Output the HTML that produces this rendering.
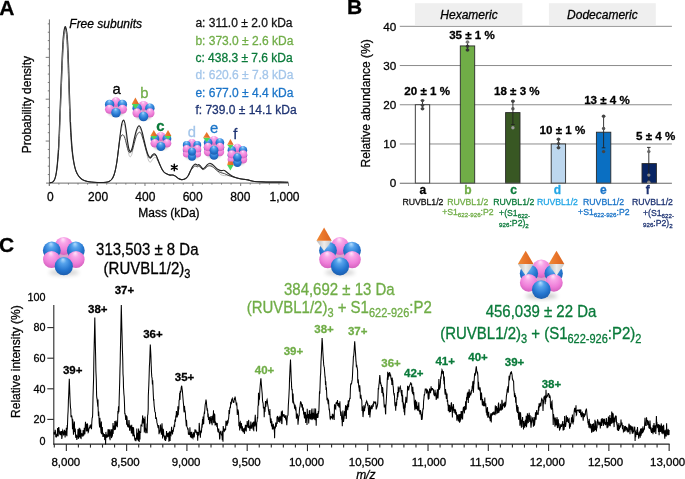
<!DOCTYPE html><html><head><meta charset="utf-8"><title>figure</title><style>html,body{margin:0;padding:0;background:#fff;overflow:hidden}svg{display:block;will-change:transform}text{font-family:"Liberation Sans",sans-serif;stroke-width:0.28px}</style></head><body>
<svg width="685" height="479" viewBox="0 0 685 479">
<defs>
<radialGradient id="gb" cx="50%" cy="38%" r="62%" fx="45%" fy="12%">
<stop offset="0" stop-color="#b5defe"/><stop offset="0.28" stop-color="#56a3ec"/><stop offset="0.7" stop-color="#2475cf"/><stop offset="1" stop-color="#1b5dae"/></radialGradient>
<radialGradient id="gp" cx="50%" cy="38%" r="62%" fx="45%" fy="12%">
<stop offset="0" stop-color="#ffe6fa"/><stop offset="0.28" stop-color="#f8a6e8"/><stop offset="0.7" stop-color="#ee7dd8"/><stop offset="1" stop-color="#d462be"/></radialGradient>
<linearGradient id="go" x1="0" y1="0" x2="1" y2="0"><stop offset="0" stop-color="#f08a35"/><stop offset="0.5" stop-color="#e8742a"/><stop offset="1" stop-color="#d96420"/></linearGradient>
<linearGradient id="gg" x1="0" y1="0" x2="1" y2="0"><stop offset="0" stop-color="#b9b9b9"/><stop offset="0.5" stop-color="#ececec"/><stop offset="1" stop-color="#c4c4c4"/></linearGradient>
<filter id="sh" x="-50%" y="-50%" width="200%" height="200%"><feGaussianBlur stdDeviation="2"/></filter>
<filter id="shs" x="-50%" y="-50%" width="200%" height="200%"><feGaussianBlur stdDeviation="1"/></filter>
</defs>
<rect width="685" height="479" fill="#fff"/>
<text x="-0.80" y="14.70" font-size="21.00" fill="#000" stroke="#000" font-weight="bold">A</text>
<line x1="49.4" y1="19.4" x2="49.4" y2="185.8" stroke="#6e6e6e" stroke-width="1"/>
<line x1="47.80" y1="174.53" x2="49.4" y2="174.53" stroke="#6e6e6e" stroke-width="0.9"/>
<line x1="47.80" y1="166.16" x2="49.4" y2="166.16" stroke="#6e6e6e" stroke-width="0.9"/>
<line x1="47.80" y1="157.79" x2="49.4" y2="157.79" stroke="#6e6e6e" stroke-width="0.9"/>
<line x1="47.80" y1="149.42" x2="49.4" y2="149.42" stroke="#6e6e6e" stroke-width="0.9"/>
<line x1="45.70" y1="141.05" x2="49.4" y2="141.05" stroke="#6e6e6e" stroke-width="0.9"/>
<line x1="47.80" y1="132.68" x2="49.4" y2="132.68" stroke="#6e6e6e" stroke-width="0.9"/>
<line x1="47.80" y1="124.31" x2="49.4" y2="124.31" stroke="#6e6e6e" stroke-width="0.9"/>
<line x1="47.80" y1="115.94" x2="49.4" y2="115.94" stroke="#6e6e6e" stroke-width="0.9"/>
<line x1="47.80" y1="107.57" x2="49.4" y2="107.57" stroke="#6e6e6e" stroke-width="0.9"/>
<line x1="45.70" y1="99.20" x2="49.4" y2="99.20" stroke="#6e6e6e" stroke-width="0.9"/>
<line x1="47.80" y1="90.83" x2="49.4" y2="90.83" stroke="#6e6e6e" stroke-width="0.9"/>
<line x1="47.80" y1="82.46" x2="49.4" y2="82.46" stroke="#6e6e6e" stroke-width="0.9"/>
<line x1="47.80" y1="74.09" x2="49.4" y2="74.09" stroke="#6e6e6e" stroke-width="0.9"/>
<line x1="47.80" y1="65.72" x2="49.4" y2="65.72" stroke="#6e6e6e" stroke-width="0.9"/>
<line x1="45.70" y1="57.35" x2="49.4" y2="57.35" stroke="#6e6e6e" stroke-width="0.9"/>
<line x1="47.80" y1="48.98" x2="49.4" y2="48.98" stroke="#6e6e6e" stroke-width="0.9"/>
<line x1="47.80" y1="40.61" x2="49.4" y2="40.61" stroke="#6e6e6e" stroke-width="0.9"/>
<line x1="47.80" y1="32.24" x2="49.4" y2="32.24" stroke="#6e6e6e" stroke-width="0.9"/>
<line x1="47.80" y1="23.87" x2="49.4" y2="23.87" stroke="#6e6e6e" stroke-width="0.9"/>
<line x1="46.1" y1="183.1" x2="288.6" y2="183.1" stroke="#6e6e6e" stroke-width="1"/>
<line x1="49.30" y1="183.1" x2="49.30" y2="186.00" stroke="#6e6e6e" stroke-width="0.9"/>
<line x1="58.87" y1="183.1" x2="58.87" y2="184.60" stroke="#6e6e6e" stroke-width="0.9"/>
<line x1="68.44" y1="183.1" x2="68.44" y2="184.60" stroke="#6e6e6e" stroke-width="0.9"/>
<line x1="78.00" y1="183.1" x2="78.00" y2="184.60" stroke="#6e6e6e" stroke-width="0.9"/>
<line x1="87.57" y1="183.1" x2="87.57" y2="184.60" stroke="#6e6e6e" stroke-width="0.9"/>
<line x1="97.14" y1="183.1" x2="97.14" y2="186.00" stroke="#6e6e6e" stroke-width="0.9"/>
<line x1="106.71" y1="183.1" x2="106.71" y2="184.60" stroke="#6e6e6e" stroke-width="0.9"/>
<line x1="116.28" y1="183.1" x2="116.28" y2="184.60" stroke="#6e6e6e" stroke-width="0.9"/>
<line x1="125.84" y1="183.1" x2="125.84" y2="184.60" stroke="#6e6e6e" stroke-width="0.9"/>
<line x1="135.41" y1="183.1" x2="135.41" y2="184.60" stroke="#6e6e6e" stroke-width="0.9"/>
<line x1="144.98" y1="183.1" x2="144.98" y2="186.00" stroke="#6e6e6e" stroke-width="0.9"/>
<line x1="154.55" y1="183.1" x2="154.55" y2="184.60" stroke="#6e6e6e" stroke-width="0.9"/>
<line x1="164.12" y1="183.1" x2="164.12" y2="184.60" stroke="#6e6e6e" stroke-width="0.9"/>
<line x1="173.68" y1="183.1" x2="173.68" y2="184.60" stroke="#6e6e6e" stroke-width="0.9"/>
<line x1="183.25" y1="183.1" x2="183.25" y2="184.60" stroke="#6e6e6e" stroke-width="0.9"/>
<line x1="192.82" y1="183.1" x2="192.82" y2="186.00" stroke="#6e6e6e" stroke-width="0.9"/>
<line x1="202.39" y1="183.1" x2="202.39" y2="184.60" stroke="#6e6e6e" stroke-width="0.9"/>
<line x1="211.96" y1="183.1" x2="211.96" y2="184.60" stroke="#6e6e6e" stroke-width="0.9"/>
<line x1="221.52" y1="183.1" x2="221.52" y2="184.60" stroke="#6e6e6e" stroke-width="0.9"/>
<line x1="231.09" y1="183.1" x2="231.09" y2="184.60" stroke="#6e6e6e" stroke-width="0.9"/>
<line x1="240.66" y1="183.1" x2="240.66" y2="186.00" stroke="#6e6e6e" stroke-width="0.9"/>
<line x1="250.23" y1="183.1" x2="250.23" y2="184.60" stroke="#6e6e6e" stroke-width="0.9"/>
<line x1="259.80" y1="183.1" x2="259.80" y2="184.60" stroke="#6e6e6e" stroke-width="0.9"/>
<line x1="269.36" y1="183.1" x2="269.36" y2="184.60" stroke="#6e6e6e" stroke-width="0.9"/>
<line x1="278.93" y1="183.1" x2="278.93" y2="184.60" stroke="#6e6e6e" stroke-width="0.9"/>
<line x1="288.50" y1="183.1" x2="288.50" y2="186.00" stroke="#6e6e6e" stroke-width="0.9"/>
<text x="50.40" y="200.90" font-size="12.00" fill="#000" stroke="#000" text-anchor="middle">0</text>
<text x="98.10" y="200.90" font-size="12.00" fill="#000" stroke="#000" text-anchor="middle">200</text>
<text x="145.30" y="200.90" font-size="12.00" fill="#000" stroke="#000" text-anchor="middle">400</text>
<text x="192.70" y="200.90" font-size="12.00" fill="#000" stroke="#000" text-anchor="middle">600</text>
<text x="240.30" y="200.90" font-size="12.00" fill="#000" stroke="#000" text-anchor="middle">800</text>
<text x="284.50" y="200.90" font-size="12.00" fill="#000" stroke="#000" text-anchor="middle">1,000</text>
<text x="168.90" y="216.50" font-size="12.00" fill="#000" stroke="#000" text-anchor="middle">Mass (kDa)</text>
<text transform="translate(30.7,104.6) rotate(-90)" font-size="12" text-anchor="middle" fill="#000" stroke="#000">Probability density</text>
<text x="69.30" y="27.50" font-size="12.00" fill="#000" stroke="#000" font-style="italic">Free subunits</text>
<text x="195.40" y="27.30" font-size="12.00" fill="#111" stroke="#111">a: 311.0 &#177; 2.0 kDa</text>
<text x="195.40" y="44.60" font-size="12.00" fill="#70ad47" stroke="#70ad47">b: 373.0 &#177; 2.6 kDa</text>
<text x="195.40" y="61.90" font-size="12.00" fill="#0a7a3a" stroke="#0a7a3a">c: 438.3 &#177; 7.6 kDa</text>
<text x="195.40" y="79.20" font-size="12.00" fill="#a4c6ea" stroke="#a4c6ea">d: 620.6 &#177; 7.8 kDa</text>
<text x="195.40" y="96.50" font-size="12.00" fill="#1a74c8" stroke="#1a74c8">e: 677.0 &#177; 4.4 kDa</text>
<text x="195.40" y="113.80" font-size="12.00" fill="#1f3473" stroke="#1f3473">f: 739.0 &#177; 14.1 kDa</text>
<path d="M49.50,182.80 C49.97,182.72 51.62,182.57 52.30,182.30 C52.98,182.03 53.15,181.85 53.60,181.20 C54.05,180.55 54.55,179.85 55.00,178.40 C55.45,176.95 55.90,175.07 56.30,172.50 C56.70,169.93 57.03,167.08 57.40,163.00 C57.77,158.92 58.17,153.83 58.50,148.00 C58.83,142.17 59.10,135.33 59.40,128.00 C59.70,120.67 59.98,112.33 60.30,104.00 C60.62,95.67 60.97,86.33 61.30,78.00 C61.63,69.67 61.97,60.83 62.30,54.00 C62.63,47.17 62.97,41.00 63.30,37.00 C63.63,33.00 63.97,31.53 64.30,30.00 C64.63,28.47 64.97,27.80 65.30,27.80 C65.63,27.80 65.97,28.47 66.30,30.00 C66.63,31.53 66.98,33.00 67.30,37.00 C67.62,41.00 67.92,47.17 68.20,54.00 C68.48,60.83 68.75,70.33 69.00,78.00 C69.25,85.67 69.45,92.67 69.70,100.00 C69.95,107.33 70.18,115.00 70.50,122.00 C70.82,129.00 71.22,136.50 71.60,142.00 C71.98,147.50 72.33,151.17 72.80,155.00 C73.27,158.83 73.83,162.25 74.40,165.00 C74.97,167.75 75.50,169.67 76.20,171.50 C76.90,173.33 77.72,174.75 78.60,176.00 C79.48,177.25 80.43,178.20 81.50,179.00 C82.57,179.80 83.75,180.33 85.00,180.80 C86.25,181.27 87.50,181.55 89.00,181.80 C90.50,182.05 92.17,182.18 94.00,182.30 C95.83,182.42 98.00,182.50 100.00,182.50 C102.00,182.50 104.42,182.52 106.00,182.30 C107.58,182.08 108.50,181.75 109.50,181.20 C110.50,180.65 111.25,180.03 112.00,179.00 C112.75,177.97 113.40,176.67 114.00,175.00 C114.60,173.33 115.10,171.33 115.60,169.00 C116.10,166.67 116.53,164.17 117.00,161.00 C117.47,157.83 117.93,153.83 118.40,150.00 C118.87,146.17 119.33,141.33 119.80,138.00 C120.27,134.67 120.75,132.17 121.20,130.00 C121.65,127.83 122.07,126.00 122.50,125.00 C122.93,124.00 123.38,123.67 123.80,124.00 C124.22,124.33 124.60,125.00 125.00,127.00 C125.40,129.00 125.78,132.83 126.20,136.00 C126.62,139.17 127.05,142.92 127.50,146.00 C127.95,149.08 128.42,152.70 128.90,154.50 C129.38,156.30 129.85,157.05 130.40,156.80 C130.95,156.55 131.57,155.47 132.20,153.00 C132.83,150.53 133.53,145.33 134.20,142.00 C134.87,138.67 135.50,135.25 136.20,133.00 C136.90,130.75 137.70,129.17 138.40,128.50 C139.10,127.83 139.73,127.92 140.40,129.00 C141.07,130.08 141.73,132.67 142.40,135.00 C143.07,137.33 143.73,140.17 144.40,143.00 C145.07,145.83 145.73,149.17 146.40,152.00 C147.07,154.83 147.73,158.30 148.40,160.00 C149.07,161.70 149.73,162.28 150.40,162.20 C151.07,162.12 151.75,160.28 152.40,159.50 C153.05,158.72 153.68,157.75 154.30,157.50 C154.92,157.25 155.48,157.33 156.10,158.00 C156.72,158.67 157.35,160.33 158.00,161.50 C158.65,162.67 159.33,163.72 160.00,165.00 C160.67,166.28 161.30,167.98 162.00,169.20 C162.70,170.42 163.37,171.50 164.20,172.30 C165.03,173.10 166.03,173.53 167.00,174.00 C167.97,174.47 169.00,174.93 170.00,175.10 C171.00,175.27 172.03,174.78 173.00,175.00 C173.97,175.22 174.88,175.80 175.80,176.40 C176.72,177.00 177.58,178.07 178.50,178.60 C179.42,179.13 180.38,179.48 181.30,179.60 C182.22,179.72 183.17,179.57 184.00,179.30 C184.83,179.03 185.55,178.68 186.30,178.00 C187.05,177.32 187.80,176.40 188.50,175.20 C189.20,174.00 189.82,172.17 190.50,170.80 C191.18,169.43 191.93,167.97 192.60,167.00 C193.27,166.03 193.93,165.33 194.50,165.00 C195.07,164.67 195.52,164.87 196.00,165.00 C196.48,165.13 196.93,165.77 197.40,165.80 C197.87,165.83 198.27,165.00 198.80,165.20 C199.33,165.40 199.93,166.37 200.60,167.00 C201.27,167.63 202.07,168.83 202.80,169.00 C203.53,169.17 204.23,168.50 205.00,168.00 C205.77,167.50 206.60,166.53 207.40,166.00 C208.20,165.47 209.00,164.87 209.80,164.80 C210.60,164.73 211.37,165.17 212.20,165.60 C213.03,166.03 213.90,166.47 214.80,167.40 C215.70,168.33 216.60,170.00 217.60,171.20 C218.60,172.40 219.67,173.87 220.80,174.60 C221.93,175.33 223.20,175.43 224.40,175.60 C225.60,175.77 226.67,175.50 228.00,175.60 C229.33,175.70 231.03,175.83 232.40,176.20 C233.77,176.57 234.90,177.37 236.20,177.80 C237.50,178.23 238.87,178.53 240.20,178.80 C241.53,179.07 242.90,179.22 244.20,179.40 C245.50,179.58 246.83,179.67 248.00,179.90 C249.17,180.13 250.10,180.53 251.20,180.80 C252.30,181.07 252.80,181.32 254.60,181.50 C256.40,181.68 259.43,181.80 262.00,181.90 C264.57,182.00 267.00,182.07 270.00,182.10 C273.00,182.13 276.97,182.07 280.00,182.10 C283.03,182.13 286.83,182.27 288.20,182.30" fill="none" stroke="#b8b8b8" stroke-width="0.9"/>
<path d="M49.50,182.80 C49.97,182.72 51.62,182.57 52.30,182.30 C52.98,182.03 53.14,181.85 53.60,181.20 C54.06,180.55 54.59,179.85 55.06,178.40 C55.54,176.95 56.02,175.07 56.44,172.50 C56.87,169.93 57.22,167.08 57.61,163.00 C58.00,158.92 58.42,153.83 58.78,148.00 C59.13,142.17 59.42,135.33 59.73,128.00 C60.05,120.67 60.35,112.33 60.69,104.00 C61.03,95.67 61.40,86.33 61.75,78.00 C62.11,69.67 62.46,60.83 62.81,54.00 C63.17,47.17 63.52,41.17 63.88,37.00 C64.23,32.83 64.70,30.73 64.94,29.00 C65.18,27.27 65.18,26.60 65.30,26.60 C65.42,26.60 65.42,27.27 65.66,29.00 C65.89,30.73 66.38,32.83 66.71,37.00 C67.04,41.17 67.36,47.17 67.66,54.00 C67.96,60.83 68.24,70.33 68.50,78.00 C68.77,85.67 68.98,92.67 69.24,100.00 C69.51,107.33 69.75,115.00 70.09,122.00 C70.42,129.00 70.84,136.50 71.25,142.00 C71.65,147.50 72.02,151.17 72.51,155.00 C73.01,158.83 73.60,162.25 74.20,165.00 C74.80,167.75 75.37,169.67 76.10,171.50 C76.83,173.33 77.70,174.75 78.60,176.00 C79.50,177.25 80.43,178.20 81.50,179.00 C82.57,179.80 83.75,180.33 85.00,180.80 C86.25,181.27 87.50,181.55 89.00,181.80 C90.50,182.05 92.17,182.18 94.00,182.30 C95.83,182.42 98.00,182.50 100.00,182.50 C102.00,182.50 104.42,182.52 106.00,182.30 C107.58,182.08 108.50,181.75 109.50,181.20 C110.50,180.65 111.25,180.03 112.00,179.00 C112.75,177.97 113.40,176.67 114.00,175.00 C114.60,173.33 115.10,171.33 115.60,169.00 C116.10,166.67 116.53,164.17 117.00,161.00 C117.47,157.83 117.93,153.50 118.40,150.00 C118.87,146.50 119.33,142.33 119.80,140.00 C120.27,137.67 120.75,136.87 121.20,136.00 C121.65,135.13 122.07,134.87 122.50,134.80 C122.93,134.73 123.38,134.98 123.80,135.60 C124.22,136.22 124.60,137.27 125.00,138.50 C125.40,139.73 125.78,141.33 126.20,143.00 C126.62,144.67 127.05,147.00 127.50,148.50 C127.95,150.00 128.42,151.32 128.90,152.00 C129.38,152.68 129.85,152.85 130.40,152.60 C130.95,152.35 131.57,152.02 132.20,150.50 C132.83,148.98 133.53,145.83 134.20,143.50 C134.87,141.17 135.50,138.28 136.20,136.50 C136.90,134.72 137.70,133.45 138.40,132.80 C139.10,132.15 139.73,131.90 140.40,132.60 C141.07,133.30 141.73,135.10 142.40,137.00 C143.07,138.90 143.73,141.63 144.40,144.00 C145.07,146.37 145.73,149.10 146.40,151.20 C147.07,153.30 147.73,155.40 148.40,156.60 C149.07,157.80 149.73,158.50 150.40,158.40 C151.07,158.30 151.75,156.57 152.40,156.00 C153.05,155.43 153.68,155.08 154.30,155.00 C154.92,154.92 155.48,154.67 156.10,155.50 C156.72,156.33 157.35,158.42 158.00,160.00 C158.65,161.58 159.33,163.47 160.00,165.00 C160.67,166.53 161.30,167.98 162.00,169.20 C162.70,170.42 163.37,171.50 164.20,172.30 C165.03,173.10 166.03,173.53 167.00,174.00 C167.97,174.47 169.00,174.93 170.00,175.10 C171.00,175.27 172.03,174.78 173.00,175.00 C173.97,175.22 174.88,175.80 175.80,176.40 C176.72,177.00 177.58,178.07 178.50,178.60 C179.42,179.13 180.38,179.48 181.30,179.60 C182.22,179.72 183.17,179.57 184.00,179.30 C184.83,179.03 185.55,178.68 186.30,178.00 C187.05,177.32 187.80,176.40 188.50,175.20 C189.20,174.00 189.82,172.00 190.50,170.80 C191.18,169.60 191.93,168.77 192.60,168.00 C193.27,167.23 193.93,166.48 194.50,166.20 C195.07,165.92 195.52,166.20 196.00,166.30 C196.48,166.40 196.93,166.82 197.40,166.80 C197.87,166.78 198.27,166.07 198.80,166.20 C199.33,166.33 199.93,167.03 200.60,167.60 C201.27,168.17 202.07,169.43 202.80,169.60 C203.53,169.77 204.23,169.13 205.00,168.60 C205.77,168.07 206.60,166.87 207.40,166.40 C208.20,165.93 209.00,165.77 209.80,165.80 C210.60,165.83 211.37,166.13 212.20,166.60 C213.03,167.07 213.90,167.87 214.80,168.60 C215.70,169.33 216.60,170.33 217.60,171.00 C218.60,171.67 219.67,172.17 220.80,172.60 C221.93,173.03 223.20,173.17 224.40,173.60 C225.60,174.03 226.67,174.67 228.00,175.20 C229.33,175.73 231.03,176.37 232.40,176.80 C233.77,177.23 234.90,177.47 236.20,177.80 C237.50,178.13 238.87,178.53 240.20,178.80 C241.53,179.07 242.90,179.22 244.20,179.40 C245.50,179.58 246.83,179.67 248.00,179.90 C249.17,180.13 250.10,180.53 251.20,180.80 C252.30,181.07 252.80,181.32 254.60,181.50 C256.40,181.68 259.43,181.80 262.00,181.90 C264.57,182.00 267.00,182.07 270.00,182.10 C273.00,182.13 276.97,182.07 280.00,182.10 C283.03,182.13 286.83,182.27 288.20,182.30" fill="none" stroke="#3a3a3a" stroke-width="0.95"/>
<path d="M49.50,182.80 C49.97,182.72 51.62,182.57 52.30,182.30 C52.98,182.03 53.15,181.85 53.60,181.20 C54.05,180.55 54.55,179.85 55.00,178.40 C55.45,176.95 55.90,175.07 56.30,172.50 C56.70,169.93 57.03,167.08 57.40,163.00 C57.77,158.92 58.17,153.83 58.50,148.00 C58.83,142.17 59.10,135.33 59.40,128.00 C59.70,120.67 59.98,112.33 60.30,104.00 C60.62,95.67 60.97,86.33 61.30,78.00 C61.63,69.67 61.97,60.83 62.30,54.00 C62.63,47.17 62.97,41.17 63.30,37.00 C63.63,32.83 63.97,30.73 64.30,29.00 C64.63,27.27 64.97,26.60 65.30,26.60 C65.63,26.60 65.97,27.27 66.30,29.00 C66.63,30.73 66.98,32.83 67.30,37.00 C67.62,41.17 67.92,47.17 68.20,54.00 C68.48,60.83 68.75,70.33 69.00,78.00 C69.25,85.67 69.45,92.67 69.70,100.00 C69.95,107.33 70.18,115.00 70.50,122.00 C70.82,129.00 71.22,136.50 71.60,142.00 C71.98,147.50 72.33,151.17 72.80,155.00 C73.27,158.83 73.83,162.25 74.40,165.00 C74.97,167.75 75.50,169.67 76.20,171.50 C76.90,173.33 77.72,174.75 78.60,176.00 C79.48,177.25 80.43,178.20 81.50,179.00 C82.57,179.80 83.75,180.33 85.00,180.80 C86.25,181.27 87.50,181.55 89.00,181.80 C90.50,182.05 92.17,182.18 94.00,182.30 C95.83,182.42 98.00,182.50 100.00,182.50 C102.00,182.50 104.42,182.52 106.00,182.30 C107.58,182.08 108.50,181.75 109.50,181.20 C110.50,180.65 111.25,180.03 112.00,179.00 C112.75,177.97 113.40,176.67 114.00,175.00 C114.60,173.33 115.10,171.33 115.60,169.00 C116.10,166.67 116.53,164.17 117.00,161.00 C117.47,157.83 117.93,153.83 118.40,150.00 C118.87,146.17 119.33,141.83 119.80,138.00 C120.27,134.17 120.75,129.75 121.20,127.00 C121.65,124.25 122.07,122.62 122.50,121.50 C122.93,120.38 123.38,119.97 123.80,120.30 C124.22,120.63 124.60,121.72 125.00,123.50 C125.40,125.28 125.78,128.08 126.20,131.00 C126.62,133.92 127.05,138.00 127.50,141.00 C127.95,144.00 128.42,147.25 128.90,149.00 C129.38,150.75 129.85,151.67 130.40,151.50 C130.95,151.33 131.57,150.08 132.20,148.00 C132.83,145.92 133.53,141.83 134.20,139.00 C134.87,136.17 135.50,133.13 136.20,131.00 C136.90,128.87 137.70,126.83 138.40,126.20 C139.10,125.57 139.73,126.07 140.40,127.20 C141.07,128.33 141.73,130.62 142.40,133.00 C143.07,135.38 143.73,138.75 144.40,141.50 C145.07,144.25 145.73,147.17 146.40,149.50 C147.07,151.83 147.73,154.17 148.40,155.50 C149.07,156.83 149.73,157.58 150.40,157.50 C151.07,157.42 151.75,155.62 152.40,155.00 C153.05,154.38 153.68,153.72 154.30,153.80 C154.92,153.88 155.48,154.47 156.10,155.50 C156.72,156.53 157.35,158.42 158.00,160.00 C158.65,161.58 159.33,163.47 160.00,165.00 C160.67,166.53 161.30,167.98 162.00,169.20 C162.70,170.42 163.37,171.50 164.20,172.30 C165.03,173.10 166.03,173.53 167.00,174.00 C167.97,174.47 169.00,174.93 170.00,175.10 C171.00,175.27 172.03,174.78 173.00,175.00 C173.97,175.22 174.88,175.80 175.80,176.40 C176.72,177.00 177.58,178.07 178.50,178.60 C179.42,179.13 180.38,179.48 181.30,179.60 C182.22,179.72 183.17,179.57 184.00,179.30 C184.83,179.03 185.55,178.68 186.30,178.00 C187.05,177.32 187.80,176.40 188.50,175.20 C189.20,174.00 189.82,172.23 190.50,170.80 C191.18,169.37 191.93,167.67 192.60,166.60 C193.27,165.53 193.93,164.80 194.50,164.40 C195.07,164.00 195.52,164.05 196.00,164.20 C196.48,164.35 196.93,165.23 197.40,165.30 C197.87,165.37 198.27,164.45 198.80,164.60 C199.33,164.75 199.93,165.53 200.60,166.20 C201.27,166.87 202.07,168.40 202.80,168.60 C203.53,168.80 204.23,168.07 205.00,167.40 C205.77,166.73 206.60,165.30 207.40,164.60 C208.20,163.90 209.00,163.25 209.80,163.20 C210.60,163.15 211.37,163.73 212.20,164.30 C213.03,164.87 213.90,165.78 214.80,166.60 C215.70,167.42 216.60,168.53 217.60,169.20 C218.60,169.87 219.67,170.40 220.80,170.60 C221.93,170.80 223.20,169.95 224.40,170.40 C225.60,170.85 226.67,172.33 228.00,173.30 C229.33,174.27 231.03,175.45 232.40,176.20 C233.77,176.95 234.90,177.37 236.20,177.80 C237.50,178.23 238.87,178.53 240.20,178.80 C241.53,179.07 242.90,179.22 244.20,179.40 C245.50,179.58 246.83,179.67 248.00,179.90 C249.17,180.13 250.10,180.53 251.20,180.80 C252.30,181.07 252.80,181.32 254.60,181.50 C256.40,181.68 259.43,181.80 262.00,181.90 C264.57,182.00 267.00,182.07 270.00,182.10 C273.00,182.13 276.97,182.07 280.00,182.10 C283.03,182.13 286.83,182.27 288.20,182.30" fill="none" stroke="#222" stroke-width="1.1"/>
<path d="M58.90,150.00 C59.05,146.33 59.50,135.67 59.80,128.00 C60.10,120.33 60.38,112.33 60.70,104.00 C61.02,95.67 61.38,86.00 61.70,78.00 C62.02,70.00 62.30,62.33 62.60,56.00 C62.90,49.67 63.20,44.00 63.50,40.00 C63.80,36.00 64.10,33.75 64.40,32.00 C64.70,30.25 65.00,29.50 65.30,29.50 C65.60,29.50 65.90,30.25 66.20,32.00 C66.50,33.75 66.82,36.00 67.10,40.00 C67.38,44.00 67.65,49.67 67.90,56.00 C68.15,62.33 68.37,70.67 68.60,78.00 C68.83,85.33 69.07,92.67 69.30,100.00 C69.53,107.33 69.88,118.33 70.00,122.00" fill="none" stroke="#8a8a8a" stroke-width="0.8"/>
<path d="M174.3,164.2 L174.3,170.8 M171.4,165.85 L177.2,169.15 M171.4,169.15 L177.2,165.85" stroke="#000" stroke-width="1.5" stroke-linecap="round"/>
<ellipse cx="116.00" cy="113.79" rx="7.42" ry="2.12" fill="#000" opacity="0.25" filter="url(#shs)"/>
<circle cx="116.00" cy="107.32" r="2.39" fill="#d8a2cc"/><circle cx="116.00" cy="102.02" r="4.77" fill="url(#gp)"/><circle cx="109.64" cy="104.46" r="4.72" fill="url(#gb)"/><circle cx="122.36" cy="104.46" r="4.72" fill="url(#gb)"/><circle cx="109.53" cy="109.23" r="4.56" fill="url(#gp)"/><circle cx="122.47" cy="109.23" r="4.56" fill="url(#gp)"/><circle cx="116.00" cy="112.78" r="4.82" fill="url(#gb)"/>
<text x="116.60" y="94.00" font-size="14.80" fill="#000" stroke="#000" text-anchor="middle">a</text>
<ellipse cx="143.50" cy="117.49" rx="7.42" ry="2.12" fill="#000" opacity="0.25" filter="url(#shs)"/>
<circle cx="143.50" cy="111.02" r="2.39" fill="#d8a2cc"/><circle cx="143.50" cy="105.72" r="4.77" fill="url(#gp)"/><circle cx="137.14" cy="108.16" r="4.72" fill="url(#gb)"/><circle cx="149.86" cy="108.16" r="4.72" fill="url(#gb)"/><circle cx="137.03" cy="112.93" r="4.56" fill="url(#gp)"/><circle cx="149.97" cy="112.93" r="4.56" fill="url(#gp)"/><circle cx="143.50" cy="116.48" r="4.82" fill="url(#gb)"/>
<path d="M131.80,104.00 L139.00,104.00 L135.40,109.10 Z" fill="#4cd65a"/><path d="M135.40,97.60 L139.00,104.00 L131.80,104.00 Z" fill="url(#go)"/>
<text x="144.30" y="98.30" font-size="14.80" fill="#70ad47" stroke="#70ad47" text-anchor="middle">b</text>
<ellipse cx="160.90" cy="147.50" rx="7.00" ry="2.00" fill="#000" opacity="0.25" filter="url(#shs)"/>
<circle cx="160.90" cy="141.40" r="2.25" fill="#d8a2cc"/><circle cx="160.90" cy="136.40" r="4.50" fill="url(#gp)"/><circle cx="154.90" cy="138.70" r="4.45" fill="url(#gb)"/><circle cx="166.90" cy="138.70" r="4.45" fill="url(#gb)"/><circle cx="154.80" cy="143.20" r="4.30" fill="url(#gp)"/><circle cx="167.00" cy="143.20" r="4.30" fill="url(#gp)"/><circle cx="160.90" cy="146.55" r="4.55" fill="url(#gb)"/>
<path d="M150.40,135.90 L157.20,135.90 L153.80,139.60 Z" fill="#4cd65a"/><path d="M153.80,130.00 L157.20,135.90 L150.40,135.90 Z" fill="url(#go)"/>
<path d="M164.60,135.90 L171.40,135.90 L168.00,139.60 Z" fill="#4cd65a"/><path d="M168.00,130.00 L171.40,135.90 L164.60,135.90 Z" fill="url(#go)"/>
<text x="160.40" y="131.20" font-size="14.80" fill="#0a7a3a" stroke="#0a7a3a" font-weight="bold" text-anchor="middle">c</text>
<ellipse cx="192.00" cy="157.35" rx="6.30" ry="1.80" fill="#000" opacity="0.25" filter="url(#shs)"/>
<circle cx="192.00" cy="152.25" r="1.98" fill="#d8a2cc"/><circle cx="192.00" cy="147.85" r="3.96" fill="url(#gp)"/><circle cx="186.72" cy="149.88" r="3.92" fill="url(#gb)"/><circle cx="197.28" cy="149.88" r="3.92" fill="url(#gb)"/><circle cx="186.63" cy="153.84" r="3.78" fill="url(#gp)"/><circle cx="197.37" cy="153.84" r="3.78" fill="url(#gp)"/><circle cx="192.00" cy="156.78" r="4.00" fill="url(#gb)"/><circle cx="192.00" cy="147.25" r="1.98" fill="#d8a2cc"/><circle cx="192.00" cy="142.85" r="3.96" fill="url(#gp)"/><circle cx="186.72" cy="144.88" r="3.92" fill="url(#gb)"/><circle cx="197.28" cy="144.88" r="3.92" fill="url(#gb)"/><circle cx="186.63" cy="148.84" r="3.78" fill="url(#gp)"/><circle cx="197.37" cy="148.84" r="3.78" fill="url(#gp)"/><circle cx="192.00" cy="151.78" r="4.00" fill="url(#gb)"/>
<text x="191.80" y="136.70" font-size="14.80" fill="#a4c6ea" stroke="#a4c6ea" text-anchor="middle">d</text>
<ellipse cx="214.00" cy="155.87" rx="6.86" ry="1.96" fill="#000" opacity="0.25" filter="url(#shs)"/>
<circle cx="214.00" cy="150.19" r="2.21" fill="#d8a2cc"/><circle cx="214.00" cy="145.29" r="4.41" fill="url(#gp)"/><circle cx="208.12" cy="147.55" r="4.36" fill="url(#gb)"/><circle cx="219.88" cy="147.55" r="4.36" fill="url(#gb)"/><circle cx="208.02" cy="151.96" r="4.21" fill="url(#gp)"/><circle cx="219.98" cy="151.96" r="4.21" fill="url(#gp)"/><circle cx="214.00" cy="155.24" r="4.46" fill="url(#gb)"/><circle cx="214.00" cy="145.19" r="2.21" fill="#d8a2cc"/><circle cx="214.00" cy="140.29" r="4.41" fill="url(#gp)"/><circle cx="208.12" cy="142.55" r="4.36" fill="url(#gb)"/><circle cx="219.88" cy="142.55" r="4.36" fill="url(#gb)"/><circle cx="208.02" cy="146.96" r="4.21" fill="url(#gp)"/><circle cx="219.98" cy="146.96" r="4.21" fill="url(#gp)"/><circle cx="214.00" cy="150.24" r="4.46" fill="url(#gb)"/>
<path d="M203.10,137.70 L210.30,137.70 L206.70,142.00 Z" fill="#4cd65a"/><path d="M206.70,132.00 L210.30,137.70 L203.10,137.70 Z" fill="url(#go)"/>
<text x="214.00" y="133.20" font-size="14.80" fill="#1a74c8" stroke="#1a74c8" text-anchor="middle">e</text>
<ellipse cx="237.40" cy="163.24" rx="6.72" ry="1.92" fill="#000" opacity="0.25" filter="url(#shs)"/>
<circle cx="237.40" cy="157.78" r="2.11" fill="#d8a2cc"/><circle cx="237.40" cy="153.08" r="4.23" fill="url(#gp)"/><circle cx="231.76" cy="155.24" r="4.18" fill="url(#gb)"/><circle cx="243.04" cy="155.24" r="4.18" fill="url(#gb)"/><circle cx="231.67" cy="159.47" r="4.04" fill="url(#gp)"/><circle cx="243.13" cy="159.47" r="4.04" fill="url(#gp)"/><circle cx="237.40" cy="162.62" r="4.28" fill="url(#gb)"/><circle cx="237.40" cy="152.68" r="2.11" fill="#d8a2cc"/><circle cx="237.40" cy="147.98" r="4.23" fill="url(#gp)"/><circle cx="231.76" cy="150.14" r="4.18" fill="url(#gb)"/><circle cx="243.04" cy="150.14" r="4.18" fill="url(#gb)"/><circle cx="231.67" cy="154.37" r="4.04" fill="url(#gp)"/><circle cx="243.13" cy="154.37" r="4.04" fill="url(#gp)"/><circle cx="237.40" cy="157.52" r="4.28" fill="url(#gb)"/>
<path d="M227.20,144.80 L233.60,144.80 L230.40,148.80 Z" fill="#4cd65a"/><path d="M230.40,138.90 L233.60,144.80 L227.20,144.80 Z" fill="url(#go)"/>
<path d="M227.2,165 L233.6,165 L230.4,170.4 Z" fill="#4cd65a"/><path d="M228.2,161.5 L232.6,161.5 L233.6,165 L227.2,165 Z" fill="url(#go)"/>
<text x="235.30" y="138.50" font-size="14.80" fill="#1f3473" stroke="#1f3473" text-anchor="middle">f</text>
<text x="347.10" y="13.90" font-size="21.00" fill="#000" stroke="#000" font-weight="bold">B</text>
<rect x="414.9" y="3.2" width="107.5" height="21.8" fill="#efefef"/>
<rect x="548.9" y="3.2" width="106.9" height="21.8" fill="#efefef"/>
<text x="469.00" y="19.20" font-size="12.00" fill="#000" stroke="#000" font-style="italic" text-anchor="middle">Hexameric</text>
<text x="602.40" y="19.20" font-size="12.00" fill="#000" stroke="#000" font-style="italic" text-anchor="middle">Dodecameric</text>
<line x1="399.8" y1="143.98" x2="671.9" y2="143.98" stroke="#8c8c8c" stroke-width="1"/>
<line x1="399.8" y1="104.76" x2="671.9" y2="104.76" stroke="#8c8c8c" stroke-width="1"/>
<line x1="399.8" y1="65.54" x2="671.9" y2="65.54" stroke="#8c8c8c" stroke-width="1"/>
<line x1="399.8" y1="26.32" x2="671.9" y2="26.32" stroke="#8c8c8c" stroke-width="1"/>
<text x="396.20" y="187.40" font-size="11.70" fill="#000" stroke="#000" text-anchor="end">0</text>
<text x="396.20" y="148.18" font-size="11.70" fill="#000" stroke="#000" text-anchor="end">10</text>
<text x="396.20" y="108.96" font-size="11.70" fill="#000" stroke="#000" text-anchor="end">20</text>
<text x="396.20" y="69.74" font-size="11.70" fill="#000" stroke="#000" text-anchor="end">30</text>
<text x="396.20" y="30.52" font-size="11.70" fill="#000" stroke="#000" text-anchor="end">40</text>
<text transform="translate(370.1,103.4) rotate(-90)" font-size="12" text-anchor="middle" fill="#000" stroke="#000">Relative abundance (%)</text>
<rect x="415.30" y="104.76" width="14.4" height="78.44" fill="#ffffff" stroke="#2a2a2a" stroke-width="0.9"/>
<rect x="460.30" y="45.93" width="14.4" height="137.27" fill="#70ad47" stroke="#2a2a2a" stroke-width="0.9"/>
<rect x="505.60" y="112.60" width="14.4" height="70.60" fill="#385723" stroke="#2a2a2a" stroke-width="0.9"/>
<rect x="551.20" y="143.98" width="14.4" height="39.22" fill="#bdd7ee" stroke="#2a2a2a" stroke-width="0.9"/>
<rect x="596.40" y="132.21" width="14.4" height="50.99" fill="#0a6fc2" stroke="#2a2a2a" stroke-width="0.9"/>
<rect x="642.00" y="163.59" width="14.4" height="19.61" fill="#082463" stroke="#2a2a2a" stroke-width="0.9"/>
<line x1="399.8" y1="183.2" x2="671.9" y2="183.2" stroke="#6a6a6a" stroke-width="1.1"/>
<line x1="422.50" y1="100.30" x2="422.50" y2="108.80" stroke="#222" stroke-width="0.9"/>
<line x1="420.70" y1="100.30" x2="424.30" y2="100.30" stroke="#222" stroke-width="0.9"/>
<line x1="420.70" y1="108.80" x2="424.30" y2="108.80" stroke="#222" stroke-width="0.9"/>
<circle cx="422.50" cy="100.60" r="1.7" fill="#444"/>
<circle cx="422.50" cy="105.20" r="1.7" fill="#444"/>
<circle cx="422.50" cy="108.80" r="1.7" fill="#444"/>
<line x1="467.50" y1="42.20" x2="467.50" y2="50.00" stroke="#222" stroke-width="0.9"/>
<line x1="465.70" y1="42.20" x2="469.30" y2="42.20" stroke="#222" stroke-width="0.9"/>
<line x1="465.70" y1="50.00" x2="469.30" y2="50.00" stroke="#222" stroke-width="0.9"/>
<circle cx="467.50" cy="42.00" r="1.7" fill="#777"/>
<circle cx="467.50" cy="46.30" r="1.7" fill="#333"/>
<circle cx="467.50" cy="50.00" r="1.7" fill="#333"/>
<line x1="512.90" y1="101.00" x2="512.90" y2="124.50" stroke="#222" stroke-width="0.9"/>
<line x1="511.10" y1="101.00" x2="514.70" y2="101.00" stroke="#222" stroke-width="0.9"/>
<line x1="511.10" y1="124.50" x2="514.70" y2="124.50" stroke="#222" stroke-width="0.9"/>
<circle cx="512.90" cy="101.20" r="1.7" fill="#444"/>
<circle cx="512.90" cy="108.70" r="1.7" fill="#555"/>
<circle cx="512.90" cy="127.80" r="1.7" fill="#9a9a9a"/>
<line x1="558.50" y1="139.10" x2="558.50" y2="147.70" stroke="#222" stroke-width="0.9"/>
<line x1="556.70" y1="139.10" x2="560.30" y2="139.10" stroke="#222" stroke-width="0.9"/>
<line x1="556.70" y1="147.70" x2="560.30" y2="147.70" stroke="#222" stroke-width="0.9"/>
<circle cx="558.50" cy="139.30" r="1.7" fill="#444"/>
<circle cx="558.50" cy="143.60" r="1.7" fill="#444"/>
<circle cx="558.50" cy="147.70" r="1.7" fill="#444"/>
<line x1="603.60" y1="116.20" x2="603.60" y2="147.80" stroke="#222" stroke-width="0.9"/>
<line x1="601.80" y1="116.20" x2="605.40" y2="116.20" stroke="#222" stroke-width="0.9"/>
<line x1="601.80" y1="147.80" x2="605.40" y2="147.80" stroke="#222" stroke-width="0.9"/>
<circle cx="603.60" cy="116.30" r="1.7" fill="#444"/>
<circle cx="603.60" cy="128.50" r="1.7" fill="#555"/>
<circle cx="603.60" cy="151.60" r="1.7" fill="#444"/>
<line x1="648.80" y1="147.40" x2="648.80" y2="182.00" stroke="#222" stroke-width="0.9"/>
<line x1="647.00" y1="147.40" x2="650.60" y2="147.40" stroke="#222" stroke-width="0.9"/>
<line x1="647.00" y1="182.00" x2="650.60" y2="182.00" stroke="#222" stroke-width="0.9"/>
<circle cx="648.80" cy="151.60" r="1.7" fill="#666"/>
<circle cx="648.80" cy="175.10" r="1.7" fill="#8a8a8a"/>
<circle cx="648.80" cy="182.20" r="1.7" fill="#8a8a8a"/>
<text x="427.20" y="95.20" font-size="11.60" fill="#000" stroke="#000" font-weight="bold" text-anchor="middle">20 &#177; 1 %</text>
<text x="472.00" y="38.70" font-size="11.60" fill="#000" stroke="#000" font-weight="bold" text-anchor="middle">35 &#177; 1 %</text>
<text x="516.80" y="94.70" font-size="11.60" fill="#000" stroke="#000" font-weight="bold" text-anchor="middle">18 &#177; 3 %</text>
<text x="562.40" y="134.10" font-size="11.60" fill="#000" stroke="#000" font-weight="bold" text-anchor="middle">10 &#177; 1 %</text>
<text x="607.00" y="103.60" font-size="11.60" fill="#000" stroke="#000" font-weight="bold" text-anchor="middle">13 &#177; 4 %</text>
<text x="655.60" y="140.20" font-size="11.60" fill="#000" stroke="#000" font-weight="bold" text-anchor="middle">5 &#177; 4 %</text>
<text x="422.80" y="193.80" font-size="12.00" fill="#000" stroke="#000" font-weight="bold" text-anchor="middle">a</text>
<text x="468.00" y="193.80" font-size="12.00" fill="#70ad47" stroke="#70ad47" font-weight="bold" text-anchor="middle">b</text>
<text x="513.70" y="193.80" font-size="12.00" fill="#0a7a3a" stroke="#0a7a3a" font-weight="bold" text-anchor="middle">c</text>
<text x="557.30" y="193.80" font-size="12.00" fill="#22a6e6" stroke="#22a6e6" font-weight="bold" text-anchor="middle">d</text>
<text x="603.30" y="193.80" font-size="12.00" fill="#1a74c8" stroke="#1a74c8" font-weight="bold" text-anchor="middle">e</text>
<text x="647.80" y="193.80" font-size="12.00" fill="#1f3473" stroke="#1f3473" font-weight="bold" text-anchor="middle">f</text>
<text x="422.90" y="204.80" font-size="8.70" fill="#111" stroke="#111" text-anchor="middle">RUVBL1/2</text>
<text x="467.70" y="204.80" font-size="8.70" fill="#70ad47" stroke="#70ad47" text-anchor="middle">RUVBL1/2</text>
<text x="513.70" y="204.80" font-size="8.70" fill="#0a7a3a" stroke="#0a7a3a" text-anchor="middle">RUVBL1/2</text>
<text x="557.40" y="204.80" font-size="8.70" fill="#22a6e6" stroke="#22a6e6" text-anchor="middle">RUVBL1/2</text>
<text x="603.60" y="204.80" font-size="8.70" fill="#1a74c8" stroke="#1a74c8" text-anchor="middle">RUVBL1/2</text>
<text x="652.40" y="204.80" font-size="8.70" fill="#1f3473" stroke="#1f3473" text-anchor="middle">RUVBL1/2</text>
<text x="467.90" y="214.9" font-size="8.7" fill="#70ad47" stroke="#70ad47" text-anchor="middle">+S1<tspan font-size="6.2" dy="2">622-926</tspan><tspan dy="-2">:P2</tspan></text>
<text x="603.80" y="214.9" font-size="8.7" fill="#1a74c8" stroke="#1a74c8" text-anchor="middle">+S1<tspan font-size="6.2" dy="2">622-926</tspan><tspan dy="-2">:P2</tspan></text>
<text x="499.10" y="216.2" font-size="8.7" fill="#0a7a3a" stroke="#0a7a3a">+(S1<tspan font-size="6.2" dy="2">622-</tspan></text>
<text x="499.10" y="226.2" font-size="8.7" fill="#0a7a3a" stroke="#0a7a3a"><tspan font-size="6.2" dy="0.6">926</tspan><tspan dy="-0.6">:P2)</tspan><tspan font-size="6.2" dy="2">2</tspan></text>
<text x="643.00" y="216.2" font-size="8.7" fill="#1f3473" stroke="#1f3473">+(S1<tspan font-size="6.2" dy="2">622-</tspan></text>
<text x="643.00" y="226.2" font-size="8.7" fill="#1f3473" stroke="#1f3473"><tspan font-size="6.2" dy="0.6">926</tspan><tspan dy="-0.6">:P2)</tspan><tspan font-size="6.2" dy="2">2</tspan></text>
<text x="-0.90" y="251.90" font-size="21.00" fill="#000" stroke="#000" font-weight="bold">C</text>
<ellipse cx="64.00" cy="272.50" rx="15.00" ry="3.00" fill="#000" opacity="0.18" filter="url(#sh)"/>
<circle cx="63.80" cy="255.90" r="4.50" fill="#d8a2cc"/><circle cx="63.80" cy="245.90" r="9.00" fill="url(#gp)"/><circle cx="51.80" cy="250.50" r="8.90" fill="url(#gb)"/><circle cx="75.80" cy="250.50" r="8.90" fill="url(#gb)"/><circle cx="51.60" cy="259.50" r="8.60" fill="url(#gp)"/><circle cx="76.00" cy="259.50" r="8.60" fill="url(#gp)"/><circle cx="63.80" cy="266.20" r="9.10" fill="url(#gb)"/>
<ellipse cx="340.00" cy="272.50" rx="15.00" ry="3.00" fill="#000" opacity="0.18" filter="url(#sh)"/>
<circle cx="340.00" cy="256.00" r="4.50" fill="#d8a2cc"/><circle cx="340.00" cy="246.00" r="9.00" fill="url(#gp)"/><circle cx="328.00" cy="250.60" r="8.90" fill="url(#gb)"/><circle cx="352.00" cy="250.60" r="8.90" fill="url(#gb)"/><circle cx="327.80" cy="259.60" r="8.60" fill="url(#gp)"/><circle cx="352.20" cy="259.60" r="8.60" fill="url(#gp)"/><circle cx="340.00" cy="266.30" r="9.10" fill="url(#gb)"/>
<path d="M316.50,240.70 L331.70,240.70 L324.10,251.00 Z" fill="url(#gg)"/><path d="M324.10,227.60 L331.70,240.70 L316.50,240.70 Z" fill="url(#go)"/>
<ellipse cx="541.50" cy="296.00" rx="16.00" ry="3.00" fill="#000" opacity="0.22" filter="url(#sh)"/>
<circle cx="541.30" cy="279.12" r="4.63" fill="#d8a2cc"/><circle cx="541.30" cy="268.82" r="9.27" fill="url(#gp)"/><circle cx="528.94" cy="273.56" r="9.17" fill="url(#gb)"/><circle cx="553.66" cy="273.56" r="9.17" fill="url(#gb)"/><circle cx="528.73" cy="282.83" r="8.86" fill="url(#gp)"/><circle cx="553.87" cy="282.83" r="8.86" fill="url(#gp)"/><circle cx="541.30" cy="289.73" r="9.37" fill="url(#gb)"/>
<path d="M517.90,263.90 L533.50,263.90 L525.70,275.80 Z" fill="url(#gg)"/><path d="M525.70,250.70 L533.50,263.90 L517.90,263.90 Z" fill="url(#go)"/>
<path d="M548.70,263.90 L564.30,263.90 L556.50,275.80 Z" fill="url(#gg)"/><path d="M556.50,250.70 L564.30,263.90 L548.70,263.90 Z" fill="url(#go)"/>
<text transform="translate(147.30,255.00) scale(1,1.1)" x="0" y="0" font-size="15" fill="#000" stroke="#000" text-anchor="middle">313,503 &#177; 8 Da</text>
<text transform="translate(147.00,273.80) scale(1,1.1)" x="0" y="0" font-size="15" fill="#000" stroke="#000" text-anchor="middle">(RUVBL1/2)<tspan font-size="11" dy="3.6">3</tspan></text>
<text transform="translate(339.30,294.80) scale(1,1.1)" x="0" y="0" font-size="15" fill="#70ad47" stroke="#70ad47" text-anchor="middle">384,692 &#177; 13 Da</text>
<text transform="translate(339.20,313.20) scale(1,1.1)" x="0" y="0" font-size="15" fill="#70ad47" stroke="#70ad47" text-anchor="middle">(RUVBL1/2)<tspan font-size="11" dy="3.6">3</tspan><tspan dy="-3.6"> + S1</tspan><tspan font-size="11" dy="3.6">622-926</tspan><tspan dy="-3.6">:P2</tspan></text>
<text transform="translate(541.00,316.80) scale(1,1.1)" x="0" y="0" font-size="15" fill="#0a7a3a" stroke="#0a7a3a" text-anchor="middle">456,039 &#177; 22 Da</text>
<text transform="translate(540.80,339.10) scale(1,1.1)" x="0" y="0" font-size="15" fill="#0a7a3a" stroke="#0a7a3a" text-anchor="middle">(RUVBL1/2)<tspan font-size="11" dy="3.6">3</tspan><tspan dy="-3.6"> + (S1</tspan><tspan font-size="11" dy="3.6">622-926</tspan><tspan dy="-3.6">:P2)</tspan><tspan font-size="11" dy="3.6">2</tspan></text>
<line x1="53.8" y1="305" x2="53.8" y2="444.6" stroke="#2a2a2a" stroke-width="1.1"/>
<line x1="47.3" y1="419.40" x2="53.8" y2="419.40" stroke="#2a2a2a" stroke-width="1.1"/>
<text x="45.40" y="423.20" font-size="10.80" fill="#000" stroke="#000" text-anchor="end">20</text>
<line x1="47.3" y1="388.80" x2="53.8" y2="388.80" stroke="#2a2a2a" stroke-width="1.1"/>
<text x="45.40" y="392.60" font-size="10.80" fill="#000" stroke="#000" text-anchor="end">40</text>
<line x1="47.3" y1="358.20" x2="53.8" y2="358.20" stroke="#2a2a2a" stroke-width="1.1"/>
<text x="45.40" y="362.00" font-size="10.80" fill="#000" stroke="#000" text-anchor="end">60</text>
<line x1="47.3" y1="327.60" x2="53.8" y2="327.60" stroke="#2a2a2a" stroke-width="1.1"/>
<text x="45.40" y="331.40" font-size="10.80" fill="#000" stroke="#000" text-anchor="end">80</text>
<text x="45.40" y="301.30" font-size="10.80" fill="#000" stroke="#000" text-anchor="end">100</text>
<text x="45.60" y="445.30" font-size="10.80" fill="#000" stroke="#000" text-anchor="end">0</text>
<line x1="53.3" y1="444.0" x2="669.6" y2="444.0" stroke="#222" stroke-width="1.25"/>
<line x1="54.29" y1="444.1" x2="54.29" y2="447.60" stroke="#2a2a2a" stroke-width="1.1"/>
<line x1="66.35" y1="444.1" x2="66.35" y2="451.10" stroke="#2a2a2a" stroke-width="1.1"/>
<line x1="78.40" y1="444.1" x2="78.40" y2="447.60" stroke="#2a2a2a" stroke-width="1.1"/>
<line x1="90.46" y1="444.1" x2="90.46" y2="447.60" stroke="#2a2a2a" stroke-width="1.1"/>
<line x1="102.51" y1="444.1" x2="102.51" y2="447.60" stroke="#2a2a2a" stroke-width="1.1"/>
<line x1="114.57" y1="444.1" x2="114.57" y2="447.60" stroke="#2a2a2a" stroke-width="1.1"/>
<line x1="126.63" y1="444.1" x2="126.63" y2="451.10" stroke="#2a2a2a" stroke-width="1.1"/>
<line x1="138.68" y1="444.1" x2="138.68" y2="447.60" stroke="#2a2a2a" stroke-width="1.1"/>
<line x1="150.74" y1="444.1" x2="150.74" y2="447.60" stroke="#2a2a2a" stroke-width="1.1"/>
<line x1="162.79" y1="444.1" x2="162.79" y2="447.60" stroke="#2a2a2a" stroke-width="1.1"/>
<line x1="174.85" y1="444.1" x2="174.85" y2="447.60" stroke="#2a2a2a" stroke-width="1.1"/>
<line x1="186.91" y1="444.1" x2="186.91" y2="451.10" stroke="#2a2a2a" stroke-width="1.1"/>
<line x1="198.96" y1="444.1" x2="198.96" y2="447.60" stroke="#2a2a2a" stroke-width="1.1"/>
<line x1="211.02" y1="444.1" x2="211.02" y2="447.60" stroke="#2a2a2a" stroke-width="1.1"/>
<line x1="223.07" y1="444.1" x2="223.07" y2="447.60" stroke="#2a2a2a" stroke-width="1.1"/>
<line x1="235.13" y1="444.1" x2="235.13" y2="447.60" stroke="#2a2a2a" stroke-width="1.1"/>
<line x1="247.19" y1="444.1" x2="247.19" y2="451.10" stroke="#2a2a2a" stroke-width="1.1"/>
<line x1="259.24" y1="444.1" x2="259.24" y2="447.60" stroke="#2a2a2a" stroke-width="1.1"/>
<line x1="271.30" y1="444.1" x2="271.30" y2="447.60" stroke="#2a2a2a" stroke-width="1.1"/>
<line x1="283.35" y1="444.1" x2="283.35" y2="447.60" stroke="#2a2a2a" stroke-width="1.1"/>
<line x1="295.41" y1="444.1" x2="295.41" y2="447.60" stroke="#2a2a2a" stroke-width="1.1"/>
<line x1="307.47" y1="444.1" x2="307.47" y2="451.10" stroke="#2a2a2a" stroke-width="1.1"/>
<line x1="319.52" y1="444.1" x2="319.52" y2="447.60" stroke="#2a2a2a" stroke-width="1.1"/>
<line x1="331.58" y1="444.1" x2="331.58" y2="447.60" stroke="#2a2a2a" stroke-width="1.1"/>
<line x1="343.63" y1="444.1" x2="343.63" y2="447.60" stroke="#2a2a2a" stroke-width="1.1"/>
<line x1="355.69" y1="444.1" x2="355.69" y2="447.60" stroke="#2a2a2a" stroke-width="1.1"/>
<line x1="367.75" y1="444.1" x2="367.75" y2="451.10" stroke="#2a2a2a" stroke-width="1.1"/>
<line x1="379.80" y1="444.1" x2="379.80" y2="447.60" stroke="#2a2a2a" stroke-width="1.1"/>
<line x1="391.86" y1="444.1" x2="391.86" y2="447.60" stroke="#2a2a2a" stroke-width="1.1"/>
<line x1="403.91" y1="444.1" x2="403.91" y2="447.60" stroke="#2a2a2a" stroke-width="1.1"/>
<line x1="415.97" y1="444.1" x2="415.97" y2="447.60" stroke="#2a2a2a" stroke-width="1.1"/>
<line x1="428.03" y1="444.1" x2="428.03" y2="451.10" stroke="#2a2a2a" stroke-width="1.1"/>
<line x1="440.08" y1="444.1" x2="440.08" y2="447.60" stroke="#2a2a2a" stroke-width="1.1"/>
<line x1="452.14" y1="444.1" x2="452.14" y2="447.60" stroke="#2a2a2a" stroke-width="1.1"/>
<line x1="464.19" y1="444.1" x2="464.19" y2="447.60" stroke="#2a2a2a" stroke-width="1.1"/>
<line x1="476.25" y1="444.1" x2="476.25" y2="447.60" stroke="#2a2a2a" stroke-width="1.1"/>
<line x1="488.31" y1="444.1" x2="488.31" y2="451.10" stroke="#2a2a2a" stroke-width="1.1"/>
<line x1="500.36" y1="444.1" x2="500.36" y2="447.60" stroke="#2a2a2a" stroke-width="1.1"/>
<line x1="512.42" y1="444.1" x2="512.42" y2="447.60" stroke="#2a2a2a" stroke-width="1.1"/>
<line x1="524.47" y1="444.1" x2="524.47" y2="447.60" stroke="#2a2a2a" stroke-width="1.1"/>
<line x1="536.53" y1="444.1" x2="536.53" y2="447.60" stroke="#2a2a2a" stroke-width="1.1"/>
<line x1="548.59" y1="444.1" x2="548.59" y2="451.10" stroke="#2a2a2a" stroke-width="1.1"/>
<line x1="560.64" y1="444.1" x2="560.64" y2="447.60" stroke="#2a2a2a" stroke-width="1.1"/>
<line x1="572.70" y1="444.1" x2="572.70" y2="447.60" stroke="#2a2a2a" stroke-width="1.1"/>
<line x1="584.75" y1="444.1" x2="584.75" y2="447.60" stroke="#2a2a2a" stroke-width="1.1"/>
<line x1="596.81" y1="444.1" x2="596.81" y2="447.60" stroke="#2a2a2a" stroke-width="1.1"/>
<line x1="608.87" y1="444.1" x2="608.87" y2="451.10" stroke="#2a2a2a" stroke-width="1.1"/>
<line x1="620.92" y1="444.1" x2="620.92" y2="447.60" stroke="#2a2a2a" stroke-width="1.1"/>
<line x1="632.98" y1="444.1" x2="632.98" y2="447.60" stroke="#2a2a2a" stroke-width="1.1"/>
<line x1="645.03" y1="444.1" x2="645.03" y2="447.60" stroke="#2a2a2a" stroke-width="1.1"/>
<line x1="657.09" y1="444.1" x2="657.09" y2="447.60" stroke="#2a2a2a" stroke-width="1.1"/>
<line x1="669.15" y1="444.1" x2="669.15" y2="451.10" stroke="#2a2a2a" stroke-width="1.1"/>
<text x="65.80" y="465.70" font-size="11.50" fill="#000" stroke="#000" text-anchor="middle">8,000</text>
<text x="125.30" y="465.70" font-size="11.50" fill="#000" stroke="#000" text-anchor="middle">8,500</text>
<text x="186.10" y="465.70" font-size="11.50" fill="#000" stroke="#000" text-anchor="middle">9,000</text>
<text x="246.30" y="465.70" font-size="11.50" fill="#000" stroke="#000" text-anchor="middle">9,500</text>
<text x="306.50" y="465.70" font-size="11.50" fill="#000" stroke="#000" text-anchor="middle">10,000</text>
<text x="366.40" y="465.70" font-size="11.50" fill="#000" stroke="#000" text-anchor="middle">10,500</text>
<text x="429.00" y="465.70" font-size="11.50" fill="#000" stroke="#000" text-anchor="middle">11,000</text>
<text x="487.00" y="465.70" font-size="11.50" fill="#000" stroke="#000" text-anchor="middle">11,500</text>
<text x="547.30" y="465.70" font-size="11.50" fill="#000" stroke="#000" text-anchor="middle">12,000</text>
<text x="605.50" y="465.70" font-size="11.50" fill="#000" stroke="#000" text-anchor="middle">12,500</text>
<text x="667.60" y="465.70" font-size="11.50" fill="#000" stroke="#000" text-anchor="middle">13,000</text>
<text x="365.8" y="478.6" font-size="12" font-style="italic" text-anchor="middle" fill="#000" stroke="#000">m/z</text>
<text transform="translate(19.6,361.6) rotate(-90)" font-size="12" text-anchor="middle" fill="#000" stroke="#000">Relative intensity (%)</text>
<polyline points="54.0,432.1 54.3,434.8 54.6,432.5 54.9,432.1 55.2,429.9 55.5,432.3 55.8,437.2 56.1,435.4 56.4,437.4 56.7,434.9 57.0,435.3 57.3,434.6 57.6,428.1 57.9,436.4 58.0,436.0 58.2,435.9 58.5,428.1 58.8,427.1 59.1,429.9 59.4,431.6 59.7,434.4 60.0,433.4 60.3,435.2 60.6,431.3 60.9,434.2 61.2,434.7 61.5,431.0 61.8,438.9 62.0,435.5 62.1,437.5 62.4,431.3 62.7,430.3 63.0,431.6 63.3,432.6 63.6,435.4 63.9,434.3 64.2,431.8 64.5,429.8 64.8,431.2 65.1,437.5 65.4,431.0 65.7,434.1 66.0,435.1 66.3,427.8 66.6,432.0 66.9,436.3 67.2,424.9 67.3,429.4 67.5,425.3 67.8,416.0 68.1,411.0 68.3,405.0 68.4,400.3 68.7,395.2 69.0,387.0 69.3,378.8 69.6,387.0 69.9,395.7 70.2,402.7 70.5,407.6 70.8,409.4 71.0,417.3 71.1,415.0 71.4,416.7 71.7,415.6 72.0,418.1 72.3,421.5 72.5,429.3 72.6,418.7 72.9,421.0 73.2,428.4 73.5,434.6 73.8,432.6 74.1,424.2 74.4,421.6 74.7,432.0 75.0,429.6 75.3,428.6 75.6,436.3 75.9,438.0 76.0,435.0 76.2,435.0 76.5,435.7 76.8,439.9 77.1,436.9 77.4,436.3 77.7,436.3 78.0,429.0 78.3,438.3 78.6,438.1 78.9,436.6 79.2,427.7 79.5,431.5 79.8,437.1 80.0,428.4 80.1,433.2 80.4,437.7 80.7,429.8 81.0,439.1 81.3,436.1 81.6,433.2 81.9,434.4 82.2,435.5 82.5,433.6 82.8,436.8 83.1,430.6 83.4,430.7 83.7,435.7 84.0,432.4 84.3,427.9 84.6,432.9 84.9,434.3 85.2,426.7 85.5,421.8 85.7,425.0 85.8,425.5 86.1,425.2 86.4,431.4 86.7,423.8 87.0,431.3 87.3,423.4 87.6,424.5 87.9,429.9 88.2,432.4 88.5,431.9 88.8,429.5 89.1,428.1 89.4,427.5 89.7,428.4 90.0,425.4 90.3,426.2 90.6,426.8 90.9,424.4 91.0,426.7 91.2,425.5 91.5,429.3 91.8,422.7 92.1,418.3 92.4,417.0 92.5,417.8 92.7,413.3 93.0,397.8 93.3,387.6 93.6,378.6 93.9,357.2 94.2,344.9 94.5,331.9 94.8,317.4 95.1,331.9 95.4,346.4 95.7,359.9 95.9,371.1 96.0,373.3 96.3,379.5 96.6,395.5 96.9,398.7 97.0,397.7 97.2,400.8 97.5,403.4 97.8,406.8 98.0,399.4 98.1,407.2 98.4,415.9 98.7,411.6 99.0,417.6 99.2,423.3 99.3,423.8 99.6,427.5 99.9,417.9 100.2,423.0 100.5,424.8 100.8,429.7 101.1,433.1 101.4,421.4 101.6,434.3 101.7,426.7 102.0,433.7 102.3,427.1 102.6,432.6 102.9,437.0 103.2,433.0 103.5,434.1 103.8,436.6 104.1,434.8 104.4,434.1 104.7,440.0 105.0,439.2 105.3,434.4 105.6,444.6 105.9,431.9 106.2,437.9 106.5,434.4 106.8,435.4 107.1,437.5 107.4,436.0 107.7,437.3 108.0,429.9 108.3,429.2 108.6,436.6 108.9,431.8 109.2,431.1 109.5,429.4 109.8,438.9 110.0,438.0 110.1,440.3 110.4,431.6 110.7,433.6 111.0,429.3 111.3,435.1 111.6,438.1 111.9,429.3 112.2,436.6 112.5,434.8 112.8,430.1 113.0,423.1 113.1,433.9 113.4,428.8 113.7,425.6 114.0,427.9 114.3,427.2 114.6,430.1 114.8,421.0 114.9,427.6 115.2,429.3 115.5,429.2 115.8,423.2 116.1,420.5 116.4,426.2 116.7,423.4 117.0,422.9 117.3,427.3 117.6,421.6 117.9,410.9 118.2,413.8 118.5,406.3 118.8,412.2 119.0,409.3 119.1,402.0 119.4,391.8 119.7,382.1 120.0,368.3 120.2,362.4 120.3,355.1 120.6,341.2 120.9,326.0 121.2,310.3 121.3,305.0 121.5,313.4 121.8,327.0 122.1,336.9 122.4,349.8 122.7,357.2 123.0,374.0 123.3,377.8 123.5,387.6 123.6,388.8 123.9,394.0 124.2,396.7 124.5,404.0 124.8,414.3 125.1,413.4 125.4,416.3 125.7,419.9 126.0,417.7 126.3,415.3 126.5,418.6 126.6,424.7 126.9,416.3 127.2,419.7 127.5,426.1 127.8,426.5 128.1,424.3 128.4,427.4 128.7,426.0 128.8,421.2 129.0,420.0 129.3,424.0 129.6,430.7 129.9,427.0 130.2,426.2 130.5,427.4 130.8,425.7 131.0,431.0 131.1,427.9 131.4,433.4 131.7,424.7 132.0,433.6 132.3,431.4 132.6,427.0 132.9,436.2 133.2,434.0 133.5,427.2 133.8,431.6 134.1,436.5 134.4,434.7 134.7,439.2 135.0,439.9 135.3,439.4 135.6,437.9 135.9,441.1 136.2,438.8 136.5,437.6 136.8,428.4 137.1,437.7 137.4,439.8 137.7,434.2 138.0,432.8 138.3,440.9 138.6,428.5 138.9,434.8 139.2,442.1 139.5,430.8 139.8,435.1 140.0,439.6 140.1,432.5 140.4,432.7 140.7,432.5 141.0,424.6 141.3,425.3 141.6,425.3 141.9,425.7 142.2,421.3 142.5,418.9 142.6,415.4 142.8,417.9 143.1,423.3 143.4,421.8 143.7,419.0 144.0,419.4 144.3,432.5 144.6,429.2 144.9,427.8 145.0,416.5 145.2,427.1 145.5,428.3 145.8,433.3 146.1,430.0 146.4,428.6 146.7,431.2 147.0,423.4 147.1,433.3 147.3,426.7 147.6,415.4 147.9,414.5 148.2,409.0 148.3,396.1 148.5,391.7 148.8,385.5 149.1,376.4 149.3,369.4 149.4,366.0 149.7,361.7 150.0,352.7 150.3,344.5 150.6,350.1 150.9,355.4 151.2,365.2 151.3,366.8 151.5,372.5 151.8,376.9 152.1,378.0 152.4,384.6 152.7,380.2 153.0,388.1 153.3,394.7 153.6,400.8 153.8,399.1 153.9,401.6 154.2,406.1 154.5,408.2 154.8,411.4 155.1,412.2 155.4,412.5 155.7,418.5 156.0,418.5 156.3,417.4 156.6,419.0 156.9,422.4 157.2,423.4 157.5,425.4 157.8,426.1 158.1,427.8 158.4,428.0 158.7,425.1 158.9,431.3 159.0,434.2 159.3,432.5 159.6,430.4 159.9,432.6 160.2,428.1 160.5,424.6 160.8,431.3 161.1,428.8 161.4,434.6 161.7,429.0 162.0,423.2 162.3,428.4 162.6,438.4 162.9,432.7 163.2,428.9 163.5,430.8 163.8,435.8 164.1,436.4 164.4,435.5 164.7,440.3 165.0,438.2 165.1,435.5 165.3,437.3 165.6,441.0 165.9,438.8 166.2,438.6 166.5,431.0 166.8,433.3 167.1,436.4 167.4,433.0 167.7,437.2 168.0,435.8 168.3,436.6 168.6,432.6 168.9,441.7 169.2,437.8 169.5,432.1 169.8,432.5 170.1,441.1 170.4,431.5 170.7,434.6 171.0,435.1 171.3,431.6 171.6,426.9 171.9,431.0 172.2,431.9 172.5,434.5 172.6,433.5 172.8,430.1 173.1,431.9 173.4,430.2 173.7,428.1 174.0,426.6 174.3,424.6 174.6,426.9 174.9,420.2 175.2,420.3 175.5,421.8 175.8,415.6 176.1,417.4 176.4,411.0 176.7,413.9 177.0,417.4 177.3,416.6 177.6,413.2 177.7,412.0 177.9,406.3 178.2,415.2 178.5,409.6 178.8,409.1 179.1,400.2 179.4,399.9 179.7,392.8 179.8,399.8 180.0,399.4 180.3,390.7 180.6,392.4 180.9,391.7 181.2,387.6 181.5,386.4 181.7,385.7 181.8,386.4 182.1,389.0 182.4,390.7 182.7,395.0 183.0,398.5 183.3,402.1 183.6,405.1 183.9,410.7 184.2,412.3 184.5,405.9 184.8,410.2 185.1,410.9 185.4,413.1 185.7,419.0 186.0,422.0 186.3,426.2 186.4,419.9 186.6,421.1 186.9,426.4 187.2,427.2 187.5,427.8 187.8,429.6 188.1,428.2 188.4,434.1 188.7,434.3 189.0,433.7 189.3,432.5 189.6,435.0 189.9,427.2 190.2,433.4 190.5,437.3 190.8,432.0 191.1,437.3 191.4,437.5 191.7,431.9 192.0,435.1 192.3,435.0 192.6,437.5 192.9,438.1 193.2,435.7 193.5,432.4 193.8,434.3 194.0,434.7 194.1,437.5 194.4,436.0 194.7,432.2 195.0,429.4 195.3,432.4 195.6,431.3 195.9,429.7 196.2,432.9 196.5,431.7 196.8,433.5 197.1,435.0 197.4,431.7 197.7,440.8 198.0,432.1 198.3,435.8 198.6,432.4 198.9,435.2 199.2,422.9 199.5,427.0 199.8,430.6 200.1,431.8 200.4,437.7 200.7,430.8 201.0,433.1 201.3,431.2 201.5,431.4 201.6,429.4 201.9,425.4 202.2,426.0 202.5,419.1 202.8,424.9 203.1,416.4 203.4,418.6 203.7,424.0 204.0,415.0 204.3,412.7 204.6,413.0 204.9,408.3 205.2,404.7 205.5,403.5 205.8,401.2 206.0,399.5 206.1,400.3 206.4,401.9 206.7,406.3 207.0,409.4 207.3,409.0 207.5,410.7 207.6,409.7 207.9,417.2 208.2,413.4 208.5,419.9 208.8,418.5 209.1,417.1 209.4,421.7 209.7,424.1 210.0,419.4 210.3,416.3 210.6,421.0 210.9,418.2 211.0,419.1 211.2,423.3 211.5,422.2 211.8,416.1 212.1,425.2 212.4,417.9 212.7,419.8 213.0,414.7 213.3,416.2 213.5,410.2 213.6,422.4 213.9,423.1 214.2,415.1 214.5,414.2 214.8,414.6 215.1,425.4 215.4,421.7 215.7,423.6 216.0,423.9 216.3,425.2 216.6,422.7 216.9,427.0 217.2,423.0 217.5,428.1 217.8,430.6 218.1,432.1 218.4,430.5 218.7,428.6 219.0,432.9 219.3,431.7 219.6,439.5 219.9,438.2 220.0,435.1 220.2,433.3 220.5,432.0 220.8,430.8 221.1,432.4 221.4,434.6 221.7,435.3 222.0,435.3 222.3,440.3 222.6,430.7 222.9,432.0 223.0,441.8 223.2,426.1 223.5,428.8 223.8,431.0 224.1,430.7 224.4,431.1 224.7,428.5 225.0,429.9 225.3,428.5 225.6,430.4 225.9,420.8 226.2,422.9 226.5,425.8 226.7,422.1 226.8,421.3 227.1,425.7 227.4,420.4 227.7,423.1 228.0,422.5 228.3,419.6 228.6,418.8 228.9,415.3 229.0,410.0 229.2,413.1 229.5,413.3 229.8,408.1 230.1,407.3 230.4,408.1 230.7,401.9 231.0,403.2 231.3,404.3 231.6,400.0 231.9,399.6 232.2,398.7 232.3,398.5 232.5,399.6 232.8,400.5 233.1,402.3 233.4,401.0 233.7,402.8 234.0,401.6 234.3,398.0 234.6,400.0 234.9,397.9 235.1,396.7 235.2,397.0 235.5,399.4 235.8,400.8 236.1,403.4 236.4,405.3 236.7,402.5 237.0,406.9 237.3,415.0 237.6,410.3 237.9,410.0 238.2,410.6 238.5,412.8 238.8,420.3 238.9,426.2 239.1,422.9 239.4,422.8 239.7,430.6 240.0,422.5 240.3,422.0 240.6,427.0 240.9,428.3 241.2,423.8 241.5,423.6 241.8,429.6 242.1,430.8 242.4,426.3 242.6,430.2 242.7,429.2 243.0,432.2 243.3,430.1 243.6,429.6 243.9,428.2 244.2,432.6 244.5,433.8 244.8,427.4 245.1,430.6 245.4,424.9 245.7,426.8 246.0,429.0 246.3,431.5 246.4,425.0 246.6,425.6 246.9,426.8 247.2,421.1 247.5,426.0 247.8,424.2 248.1,427.9 248.4,423.2 248.7,419.9 249.0,426.8 249.3,428.4 249.6,425.9 249.9,430.9 250.0,427.3 250.2,425.6 250.5,428.8 250.8,421.6 251.1,423.7 251.4,425.8 251.7,428.8 252.0,425.2 252.3,426.1 252.6,422.5 252.9,425.1 253.2,429.8 253.5,421.7 253.8,431.3 253.9,421.6 254.1,422.8 254.4,423.4 254.7,426.4 255.0,418.6 255.3,414.7 255.6,423.7 255.9,425.2 256.2,424.7 256.5,431.6 256.7,423.7 256.8,422.1 257.1,421.6 257.4,417.0 257.7,418.6 258.0,406.0 258.3,405.2 258.5,392.7 258.6,405.5 258.9,399.5 259.2,399.6 259.5,398.8 259.8,390.9 260.1,386.8 260.4,383.4 260.7,380.1 260.9,378.2 261.0,379.3 261.3,383.5 261.6,387.0 261.9,390.7 262.2,393.9 262.5,400.3 262.8,402.3 263.1,402.9 263.4,408.0 263.7,408.0 264.0,406.8 264.2,417.3 264.3,414.1 264.6,407.1 264.9,412.0 265.2,408.1 265.5,401.1 265.8,407.0 266.1,403.7 266.4,403.0 266.7,401.1 267.0,399.8 267.1,399.5 267.3,400.5 267.6,403.9 267.9,405.6 268.2,407.3 268.5,410.7 268.8,411.7 269.1,414.9 269.4,413.1 269.7,415.3 269.9,408.9 270.0,414.4 270.3,419.7 270.6,423.3 270.9,418.4 271.2,419.5 271.5,426.4 271.8,421.1 272.1,425.0 272.4,429.5 272.7,425.0 273.0,429.4 273.3,423.8 273.6,427.2 273.9,427.3 274.2,428.8 274.5,433.2 274.6,438.3 274.8,427.4 275.1,425.8 275.4,428.5 275.7,422.5 276.0,426.5 276.3,426.3 276.6,422.5 276.9,424.1 277.0,416.7 277.2,423.8 277.5,415.9 277.8,417.6 278.1,417.8 278.4,417.9 278.7,421.9 279.0,419.1 279.3,416.6 279.6,419.2 279.9,422.7 280.2,417.0 280.5,417.6 280.8,420.6 281.1,417.3 281.4,411.4 281.7,424.0 282.0,423.3 282.3,410.6 282.6,414.7 282.9,415.7 283.2,416.2 283.5,415.4 283.8,414.5 284.0,414.5 284.1,414.7 284.4,415.8 284.7,418.0 285.0,416.3 285.3,416.5 285.6,419.5 285.9,415.0 286.2,420.3 286.5,421.2 286.8,425.3 287.1,419.4 287.4,416.2 287.7,415.7 288.0,414.9 288.3,405.9 288.6,401.1 288.9,396.2 289.2,389.9 289.3,388.5 289.5,379.8 289.8,373.9 290.1,366.5 290.4,362.0 290.5,359.6 290.7,364.5 291.0,372.2 291.3,380.6 291.5,382.9 291.6,386.9 291.9,390.1 292.2,388.9 292.5,398.0 292.8,402.8 293.1,393.4 293.4,402.6 293.7,402.3 294.0,404.0 294.3,404.8 294.6,408.7 294.9,404.6 295.0,408.2 295.2,405.2 295.5,410.4 295.8,406.9 296.1,410.5 296.4,418.8 296.7,416.6 297.0,415.7 297.3,413.6 297.6,416.1 297.9,421.3 298.0,424.8 298.2,421.8 298.5,419.6 298.8,415.4 299.1,416.2 299.4,410.2 299.7,407.5 300.0,406.8 300.3,403.8 300.6,401.4 300.9,402.3 301.2,402.9 301.5,404.1 301.8,406.8 302.1,407.7 302.4,404.4 302.7,409.9 303.0,410.6 303.3,407.5 303.6,414.4 303.8,412.0 303.9,411.6 304.2,415.9 304.5,418.5 304.8,412.1 305.1,415.8 305.4,411.9 305.7,423.1 306.0,414.7 306.3,420.2 306.6,414.6 306.9,419.5 307.0,425.1 307.2,408.8 307.5,414.5 307.8,418.2 308.1,416.4 308.4,414.1 308.7,423.6 309.0,417.2 309.3,410.4 309.6,418.4 309.9,410.0 310.2,419.2 310.5,413.9 310.8,415.8 311.1,419.8 311.4,416.1 311.7,410.3 312.0,408.6 312.3,418.7 312.6,418.2 312.9,412.9 313.2,418.4 313.5,417.8 313.8,418.4 314.1,408.4 314.4,414.4 314.7,419.3 315.0,419.4 315.3,420.0 315.6,408.5 315.9,416.7 316.0,418.7 316.2,425.8 316.5,413.8 316.8,414.4 317.1,415.3 317.4,418.0 317.7,413.1 318.0,417.8 318.3,411.1 318.6,413.7 318.8,410.9 318.9,410.9 319.2,401.4 319.5,391.3 319.8,393.8 320.1,385.1 320.4,375.8 320.5,375.4 320.7,372.6 321.0,361.9 321.3,356.2 321.6,350.0 321.9,342.8 322.1,338.0 322.2,339.7 322.5,343.5 322.8,351.1 323.1,355.8 323.4,360.4 323.5,361.4 323.7,364.9 324.0,366.4 324.3,367.3 324.6,371.5 324.9,375.4 325.1,377.7 325.2,376.6 325.5,385.1 325.8,381.3 326.1,390.0 326.4,387.2 326.7,393.9 327.0,400.3 327.3,399.0 327.6,397.8 327.9,401.9 328.2,404.3 328.5,399.6 328.8,404.7 329.1,409.5 329.4,409.4 329.7,412.9 330.0,417.2 330.1,418.1 330.3,419.1 330.6,418.6 330.9,416.0 331.2,417.3 331.5,417.0 331.8,417.4 332.1,418.4 332.4,413.7 332.6,418.4 332.7,419.5 333.0,414.9 333.3,416.5 333.6,417.4 333.9,413.8 334.2,420.1 334.5,404.2 334.8,408.9 335.1,404.8 335.4,408.6 335.7,409.0 336.0,403.1 336.3,403.1 336.4,402.7 336.6,403.1 336.9,403.0 337.2,404.2 337.5,400.0 337.8,405.5 338.1,405.6 338.4,404.9 338.7,403.0 338.9,407.2 339.0,404.1 339.3,407.5 339.6,406.4 339.9,401.3 340.2,409.7 340.5,412.5 340.8,415.9 341.1,411.6 341.4,415.3 341.7,419.0 342.0,418.9 342.2,423.4 342.3,426.2 342.6,415.7 342.9,410.5 343.2,419.2 343.5,421.9 343.8,419.4 344.1,418.3 344.4,412.5 344.7,411.1 345.0,416.0 345.3,409.6 345.6,405.2 345.9,407.1 346.2,419.0 346.4,417.8 346.5,408.2 346.8,406.2 347.1,408.4 347.4,404.3 347.7,410.3 348.0,405.1 348.3,400.2 348.6,407.2 348.9,400.4 349.2,401.6 349.5,400.0 349.8,397.9 350.1,399.1 350.2,395.4 350.4,389.0 350.7,384.3 351.0,384.5 351.3,383.7 351.6,383.5 351.9,381.1 352.2,379.9 352.5,375.6 352.8,368.1 353.1,363.8 353.4,356.7 353.7,356.0 354.0,352.5 354.3,347.8 354.6,342.8 354.7,341.3 354.9,344.1 355.2,349.2 355.5,352.9 355.8,358.4 356.0,361.4 356.1,361.5 356.4,367.2 356.7,364.8 357.0,367.5 357.3,368.6 357.6,371.1 357.7,380.3 357.9,383.2 358.2,379.4 358.5,382.8 358.8,387.2 359.1,388.2 359.4,391.6 359.7,385.2 360.0,388.7 360.2,394.0 360.3,398.6 360.6,396.4 360.9,394.7 361.2,398.2 361.5,399.3 361.8,400.6 362.1,410.9 362.4,406.4 362.7,410.1 363.0,417.1 363.3,413.7 363.6,409.8 363.9,405.4 364.2,408.0 364.5,411.3 364.8,407.5 365.1,407.6 365.4,404.4 365.7,403.9 366.0,402.4 366.3,402.0 366.5,401.4 366.6,401.9 366.9,401.7 367.2,403.2 367.5,404.6 367.8,404.0 368.1,405.1 368.4,409.1 368.7,415.0 369.0,411.5 369.3,410.9 369.6,405.0 369.9,417.4 370.2,412.9 370.5,411.2 370.8,406.6 371.1,409.2 371.4,405.2 371.7,408.2 372.0,409.2 372.3,407.1 372.6,406.9 372.9,403.7 373.2,406.8 373.5,403.3 373.8,402.0 374.1,402.4 374.2,402.2 374.4,402.2 374.7,402.0 375.0,402.7 375.3,404.1 375.6,401.5 375.9,403.8 376.2,409.4 376.5,408.2 376.8,405.5 377.1,406.6 377.3,406.0 377.4,404.9 377.7,403.8 378.0,397.5 378.3,388.0 378.6,389.5 378.9,385.0 379.2,383.1 379.5,378.6 379.8,375.1 380.1,378.1 380.4,383.1 380.7,382.8 381.0,384.6 381.3,386.2 381.5,384.9 381.6,385.9 381.9,393.1 382.2,391.0 382.5,387.0 382.8,388.5 383.1,396.5 383.4,392.9 383.6,394.4 383.7,397.5 384.0,403.2 384.3,407.4 384.6,406.3 384.9,404.6 385.2,406.2 385.5,413.7 385.7,414.2 385.8,406.4 386.1,403.8 386.4,398.7 386.7,393.1 387.0,386.4 387.3,378.6 387.6,376.3 387.7,371.7 387.9,379.9 388.2,377.6 388.5,373.0 388.8,376.7 389.1,375.2 389.4,372.2 389.7,373.0 389.8,372.5 390.0,373.6 390.3,376.3 390.6,374.6 390.9,377.9 391.2,379.4 391.5,380.3 391.8,381.5 391.9,384.9 392.1,377.6 392.4,379.4 392.7,380.7 393.0,385.4 393.3,387.3 393.6,392.5 393.9,394.2 394.0,394.0 394.2,393.1 394.5,396.2 394.8,403.7 395.1,406.0 395.4,406.2 395.5,405.3 395.7,410.7 396.0,402.1 396.3,404.2 396.6,404.7 396.9,398.3 397.2,400.1 397.5,392.0 397.8,397.2 398.1,393.4 398.2,386.6 398.4,392.9 398.7,388.4 399.0,392.3 399.3,388.1 399.6,388.0 399.9,387.7 400.2,386.7 400.3,386.5 400.5,387.9 400.8,389.3 401.1,392.5 401.4,393.7 401.7,396.1 402.0,390.1 402.3,402.3 402.4,400.5 402.6,394.7 402.9,401.9 403.2,405.1 403.5,408.6 403.8,402.6 404.1,412.3 404.4,408.4 404.7,415.3 405.0,405.7 405.3,406.2 405.6,401.2 405.9,396.7 406.2,402.6 406.5,401.1 406.8,401.7 407.1,398.0 407.4,391.2 407.6,385.8 407.7,388.6 408.0,387.9 408.3,386.6 408.6,390.4 408.9,388.9 409.2,386.4 409.5,386.3 409.8,384.9 410.1,384.4 410.4,383.7 410.7,382.4 411.0,384.2 411.3,384.5 411.6,384.2 411.9,390.2 412.2,389.7 412.5,393.7 412.8,386.7 413.1,391.9 413.4,395.3 413.7,392.1 414.0,396.6 414.3,403.0 414.6,406.5 414.9,410.3 415.2,402.2 415.5,399.7 415.8,406.5 416.1,408.9 416.4,406.8 416.7,401.6 417.0,408.7 417.3,409.7 417.6,409.2 417.9,405.8 418.0,408.3 418.2,410.7 418.5,406.7 418.8,402.3 419.1,410.0 419.4,411.8 419.7,410.9 420.0,414.4 420.3,410.1 420.6,411.9 420.9,411.9 421.2,415.4 421.5,419.9 421.8,414.4 422.1,419.6 422.4,416.3 422.7,411.4 423.0,408.2 423.3,409.4 423.6,401.3 423.9,398.8 424.2,394.9 424.5,395.0 424.8,393.4 425.1,390.3 425.3,388.6 425.4,388.9 425.7,389.4 426.0,390.4 426.3,388.6 426.6,393.4 426.9,391.4 427.2,389.5 427.5,390.6 427.8,391.1 428.1,397.7 428.4,399.7 428.5,391.5 428.7,398.4 429.0,398.4 429.3,392.8 429.6,388.6 429.9,390.3 430.2,390.3 430.5,393.2 430.8,390.9 431.1,386.3 431.4,390.8 431.7,388.0 432.0,390.4 432.3,388.6 432.6,388.6 432.9,389.0 433.2,389.3 433.5,390.2 433.8,394.2 434.1,395.0 434.4,395.5 434.7,395.7 435.0,389.9 435.3,393.6 435.6,394.6 435.9,394.0 436.2,399.9 436.5,396.8 436.8,397.4 437.1,394.5 437.4,389.3 437.7,396.6 438.0,398.4 438.3,393.1 438.6,387.1 438.9,379.0 439.2,386.8 439.5,389.8 439.8,385.4 439.9,386.6 440.1,386.9 440.4,383.4 440.7,377.6 441.0,377.9 441.3,375.3 441.6,371.5 441.9,370.4 442.0,369.8 442.2,370.2 442.5,371.8 442.8,374.1 443.1,372.9 443.4,371.2 443.7,380.3 444.0,380.3 444.1,384.3 444.3,376.5 444.6,386.0 444.9,392.4 445.2,394.7 445.5,389.0 445.8,392.0 446.1,392.7 446.2,397.3 446.4,398.9 446.7,397.2 447.0,393.5 447.3,402.0 447.6,400.0 447.9,405.2 448.2,405.9 448.3,411.1 448.5,410.0 448.8,404.6 449.1,407.0 449.4,412.4 449.7,405.1 450.0,408.0 450.3,411.1 450.6,411.9 450.9,409.6 451.2,403.1 451.5,402.9 451.8,408.3 452.1,409.6 452.4,417.5 452.5,406.4 452.7,412.5 453.0,412.2 453.3,404.0 453.6,406.5 453.9,410.6 454.2,409.0 454.5,410.4 454.8,413.1 455.1,409.3 455.4,413.7 455.6,410.5 455.7,410.7 456.0,415.0 456.3,412.0 456.6,415.3 456.9,420.7 457.2,416.2 457.5,415.7 457.8,419.2 458.1,416.2 458.4,421.5 458.7,414.2 458.8,420.3 459.0,416.5 459.3,414.6 459.6,422.8 459.9,414.0 460.2,421.7 460.5,418.1 460.8,420.0 461.1,411.1 461.4,417.3 461.7,418.3 462.0,412.4 462.3,411.2 462.6,419.6 462.9,411.9 463.2,408.5 463.5,406.9 463.8,410.0 463.9,409.8 464.1,408.8 464.4,413.4 464.7,406.0 465.0,407.4 465.3,410.3 465.6,401.3 465.9,406.8 466.2,409.5 466.5,397.9 466.8,397.0 467.1,396.4 467.4,392.9 467.7,399.9 468.0,391.8 468.1,399.1 468.3,402.9 468.6,392.0 468.9,395.0 469.2,389.2 469.5,397.7 469.8,392.7 470.1,393.5 470.4,394.2 470.7,395.5 471.0,392.1 471.3,392.6 471.6,389.8 471.9,391.0 472.2,385.8 472.5,388.8 472.8,381.3 473.1,384.8 473.4,392.8 473.7,386.3 473.8,380.8 474.0,384.1 474.3,378.3 474.6,374.3 474.9,374.8 475.2,375.7 475.5,372.9 475.8,370.0 476.1,367.5 476.3,366.3 476.4,367.0 476.7,370.5 477.0,372.7 477.3,373.4 477.6,372.8 477.9,375.9 478.2,389.5 478.5,381.8 478.8,387.0 479.1,389.5 479.4,389.5 479.7,390.1 480.0,387.4 480.3,389.3 480.6,400.2 480.9,393.8 481.2,399.8 481.5,392.6 481.8,397.9 482.1,401.4 482.4,405.5 482.6,399.0 482.7,404.5 483.0,404.9 483.3,401.6 483.6,406.1 483.9,402.2 484.2,402.7 484.5,406.1 484.8,397.5 485.1,406.3 485.4,404.6 485.7,403.4 486.0,407.5 486.3,412.6 486.6,409.5 486.9,415.5 487.2,408.1 487.5,407.3 487.8,417.7 488.1,415.2 488.4,417.3 488.7,411.8 489.0,417.5 489.3,416.6 489.6,418.4 489.9,416.8 490.2,421.3 490.5,415.7 490.8,414.5 491.1,413.1 491.3,422.5 491.4,416.6 491.7,414.5 492.0,414.2 492.3,415.5 492.6,412.3 492.9,415.0 493.2,413.7 493.5,413.4 493.8,411.5 494.1,414.4 494.4,412.5 494.5,414.2 494.7,414.6 495.0,414.7 495.3,405.4 495.6,410.0 495.9,409.2 496.2,414.3 496.5,406.2 496.8,408.1 497.1,409.4 497.4,409.0 497.6,413.4 497.7,408.8 498.0,413.0 498.3,404.7 498.6,402.5 498.9,412.7 499.2,410.7 499.5,410.5 499.8,409.0 500.1,409.9 500.4,403.8 500.7,410.6 501.0,405.8 501.3,410.5 501.6,407.6 501.9,399.8 502.2,401.2 502.5,409.6 502.8,405.8 503.1,404.3 503.4,406.2 503.7,403.8 503.9,403.0 504.0,404.8 504.3,404.0 504.6,407.6 504.9,401.7 505.2,406.5 505.5,405.6 505.8,404.1 506.1,400.6 506.4,395.9 506.7,394.3 507.0,392.1 507.3,388.7 507.6,389.6 507.9,386.3 508.2,392.7 508.5,388.1 508.8,382.8 509.1,375.8 509.4,380.4 509.7,378.5 510.0,375.7 510.3,374.5 510.6,372.2 510.9,374.0 511.2,372.3 511.4,371.3 511.5,372.3 511.8,373.7 512.1,375.0 512.4,379.1 512.7,379.1 513.0,380.6 513.3,380.7 513.6,381.2 513.9,390.1 514.2,391.9 514.5,397.2 514.8,393.0 515.1,396.4 515.4,395.0 515.7,402.8 516.0,396.8 516.3,404.5 516.6,408.6 516.9,411.6 517.2,405.1 517.5,413.1 517.6,408.0 517.8,407.8 518.1,406.7 518.4,416.1 518.7,419.6 519.0,412.9 519.3,412.5 519.6,414.7 519.9,425.7 520.1,422.1 520.2,416.5 520.5,412.2 520.8,416.4 521.1,424.0 521.4,427.8 521.7,421.4 522.0,419.9 522.3,421.0 522.6,417.0 522.9,427.1 523.2,421.7 523.5,429.4 523.8,421.1 523.9,422.0 524.1,427.1 524.4,423.3 524.7,427.8 525.0,424.9 525.3,419.9 525.6,425.1 525.9,425.9 526.2,415.7 526.5,427.2 526.8,423.1 527.1,423.1 527.4,413.3 527.7,415.7 528.0,417.6 528.3,423.1 528.6,415.0 528.9,416.4 529.2,412.8 529.5,419.0 529.8,421.9 530.1,415.3 530.4,418.8 530.7,423.2 531.0,427.7 531.3,424.8 531.6,421.0 531.9,417.4 532.2,417.8 532.5,418.7 532.8,421.5 533.1,421.0 533.4,426.8 533.7,422.4 534.0,417.1 534.3,425.6 534.6,424.3 534.9,421.1 535.2,417.7 535.5,412.3 535.8,413.8 536.1,419.8 536.4,413.4 536.7,410.0 537.0,414.1 537.3,413.7 537.6,414.0 537.9,413.2 538.2,414.8 538.5,406.2 538.8,410.7 539.1,403.3 539.4,407.5 539.7,405.2 540.0,404.2 540.2,406.1 540.3,402.8 540.6,406.2 540.9,405.5 541.2,402.7 541.5,399.7 541.8,398.6 542.1,399.1 542.4,400.0 542.7,400.6 543.0,411.0 543.3,403.6 543.6,403.1 543.9,397.1 544.2,396.9 544.5,398.0 544.8,399.7 545.1,395.4 545.2,404.2 545.4,397.1 545.7,401.7 546.0,389.7 546.3,396.4 546.6,397.2 546.9,396.5 547.2,396.6 547.5,395.4 547.8,394.7 548.1,393.8 548.2,393.9 548.4,394.1 548.7,393.3 549.0,396.5 549.3,397.4 549.6,397.3 549.9,396.1 550.2,397.1 550.5,406.2 550.8,408.4 551.1,403.9 551.4,409.7 551.7,401.8 552.0,401.3 552.3,407.9 552.6,408.7 552.7,410.3 552.9,413.7 553.2,424.9 553.5,414.0 553.8,416.3 554.1,418.2 554.4,418.2 554.7,422.5 555.0,426.8 555.3,417.5 555.6,422.4 555.9,422.3 556.2,425.4 556.5,419.9 556.8,418.9 557.1,417.2 557.4,427.4 557.7,427.6 558.0,427.5 558.3,419.3 558.6,425.8 558.9,425.5 559.0,423.3 559.2,424.5 559.5,429.9 559.8,429.5 560.1,427.2 560.4,428.4 560.7,424.3 561.0,425.9 561.3,425.6 561.6,427.0 561.9,424.6 562.2,423.7 562.5,423.3 562.8,421.1 563.1,430.6 563.4,425.2 563.7,424.0 564.0,430.0 564.3,427.2 564.6,416.1 564.9,422.6 565.2,423.3 565.5,426.9 565.8,425.0 566.1,422.6 566.2,415.5 566.4,416.1 566.7,420.4 567.0,421.9 567.3,417.0 567.6,419.0 567.9,419.4 568.2,421.4 568.5,422.8 568.8,421.0 569.1,417.8 569.4,426.4 569.7,428.8 570.0,423.3 570.3,427.0 570.6,424.4 570.9,424.1 571.2,422.7 571.5,417.4 571.8,420.7 572.1,421.8 572.4,414.4 572.7,422.9 573.0,423.4 573.3,421.7 573.6,421.4 573.9,416.1 574.2,411.0 574.5,408.8 574.8,407.8 575.1,410.9 575.4,410.6 575.7,412.8 576.0,405.3 576.3,415.2 576.6,414.8 576.9,410.6 577.2,410.8 577.5,410.3 577.7,410.1 577.8,410.2 578.1,410.4 578.4,410.6 578.7,409.7 579.0,411.6 579.3,411.6 579.6,412.9 579.9,409.3 580.2,412.4 580.5,413.0 580.7,415.1 580.8,409.6 581.1,414.4 581.4,417.1 581.7,416.2 582.0,413.0 582.3,412.4 582.6,413.5 582.9,417.2 583.2,420.6 583.5,415.2 583.8,413.2 584.1,416.7 584.4,416.6 584.7,413.7 584.8,414.1 585.0,414.8 585.3,414.9 585.6,410.9 585.9,410.0 586.2,409.6 586.4,408.5 586.5,409.3 586.8,412.5 587.1,415.8 587.4,418.3 587.7,419.3 587.9,423.0 588.0,422.6 588.3,424.6 588.6,421.1 588.9,427.8 589.2,418.9 589.5,423.5 589.8,424.8 590.1,428.5 590.4,423.6 590.7,427.4 591.0,424.1 591.3,428.5 591.6,432.7 591.9,425.8 592.2,428.3 592.5,424.0 592.8,430.4 593.0,432.1 593.1,428.0 593.4,423.2 593.7,427.9 594.0,430.8 594.3,430.6 594.6,429.4 594.9,419.7 595.2,422.6 595.5,430.0 595.8,421.2 596.1,428.4 596.4,431.5 596.7,427.6 597.0,428.3 597.3,423.1 597.6,419.2 597.9,422.6 598.2,422.5 598.5,422.8 598.8,425.3 599.1,422.4 599.4,423.1 599.7,423.9 600.0,422.3 600.3,428.4 600.6,423.9 600.9,422.1 601.2,420.7 601.3,419.0 601.5,425.9 601.8,422.5 602.1,418.0 602.4,419.5 602.7,421.3 603.0,420.5 603.3,425.9 603.6,418.7 603.9,424.0 604.2,423.4 604.5,418.8 604.8,422.8 605.1,422.8 605.4,425.1 605.7,422.1 606.0,424.6 606.3,418.0 606.6,419.6 606.9,426.4 607.2,428.1 607.5,424.7 607.8,422.0 608.1,427.4 608.4,416.5 608.7,419.7 609.0,424.9 609.3,425.1 609.6,419.0 609.9,415.1 610.2,426.2 610.5,422.4 610.8,418.1 611.1,420.8 611.4,423.7 611.7,411.5 612.0,423.0 612.3,422.8 612.6,412.7 612.9,421.6 613.2,413.4 613.5,422.7 613.8,420.9 614.1,427.1 614.4,417.5 614.7,418.6 615.0,422.2 615.3,416.6 615.6,415.6 615.8,416.6 615.9,418.2 616.2,415.8 616.5,422.1 616.8,423.9 617.1,423.4 617.4,430.1 617.7,424.6 618.0,430.8 618.3,425.9 618.6,431.0 618.9,423.1 619.2,429.3 619.5,428.4 619.8,426.9 620.1,426.1 620.4,426.6 620.7,425.1 621.0,419.5 621.3,424.3 621.6,424.7 621.9,424.5 622.0,422.6 622.2,425.7 622.5,429.3 622.8,426.1 623.1,425.0 623.4,431.5 623.7,430.9 624.0,430.7 624.3,431.6 624.6,426.6 624.9,426.8 625.2,431.3 625.5,426.0 625.8,427.1 626.1,429.0 626.4,429.3 626.7,427.1 627.0,431.4 627.3,427.8 627.6,430.7 627.9,432.3 628.2,431.1 628.5,431.3 628.8,424.8 629.1,423.7 629.4,426.1 629.7,430.2 630.0,434.3 630.3,425.2 630.6,429.8 630.9,426.2 631.2,426.4 631.5,428.1 631.8,431.8 632.1,430.5 632.3,433.8 632.4,426.6 632.7,432.6 633.0,433.5 633.3,430.7 633.6,432.0 633.9,428.6 634.2,426.6 634.5,428.9 634.8,428.4 635.1,440.9 635.4,430.5 635.7,437.1 636.0,432.8 636.3,432.9 636.6,434.5 636.9,429.5 637.0,435.0 637.2,433.7 637.5,427.1 637.8,434.0 638.1,434.7 638.4,434.6 638.7,438.7 639.0,432.2 639.3,435.0 639.6,436.2 639.9,430.7 640.2,437.7 640.5,429.2 640.8,429.0 641.1,435.6 641.4,430.7 641.6,433.7 641.7,428.4 642.0,433.3 642.3,429.0 642.6,433.2 642.9,426.4 643.2,432.1 643.5,429.6 643.8,429.9 644.1,428.9 644.4,429.0 644.7,423.3 645.0,417.8 645.3,425.8 645.6,422.6 645.9,423.4 646.2,426.0 646.5,417.2 646.8,420.0 647.1,421.3 647.4,420.1 647.7,425.2 648.0,424.3 648.3,422.2 648.6,421.7 648.9,428.2 649.2,424.0 649.5,428.3 649.8,428.5 650.0,420.5 650.1,422.7 650.4,427.0 650.7,429.0 651.0,431.1 651.3,431.7 651.6,432.9 651.9,428.4 652.2,428.8 652.5,432.6 652.8,429.1 653.0,434.2 653.1,425.3 653.4,432.1 653.7,429.7 654.0,423.0 654.3,432.5 654.6,430.9 654.9,429.6 655.2,425.4 655.5,427.0 655.8,433.9 656.1,426.2 656.4,416.0 656.7,423.9 657.0,423.4 657.3,427.2 657.6,426.8 657.9,425.0 658.2,425.2 658.5,431.9 658.8,424.0 659.1,435.2 659.4,427.6 659.7,425.1 660.0,431.5 660.3,431.5 660.6,425.9 660.9,431.8 661.2,423.4 661.5,425.9 661.8,433.5 662.1,429.6 662.4,425.7 662.7,431.9 663.0,434.1 663.3,431.2 663.6,424.8 663.9,429.5 664.2,432.8 664.5,434.5 664.8,438.7 665.0,431.8 665.1,430.3 665.4,431.8 665.7,436.4 666.0,429.4 666.3,436.6 666.6,423.2 666.9,434.3 667.2,430.4 667.5,434.0 667.8,435.2 668.1,428.9 668.4,432.1 668.7,433.7 669.0,435.1 669.1,429.9" fill="none" stroke="#000" stroke-width="1.05" stroke-linejoin="miter"/>
<text x="72.70" y="373.50" font-size="11.50" fill="#000" stroke="#000" font-weight="bold" text-anchor="middle">39+</text>
<text x="97.80" y="313.40" font-size="11.50" fill="#000" stroke="#000" font-weight="bold" text-anchor="middle">38+</text>
<text x="124.40" y="294.10" font-size="11.50" fill="#000" stroke="#000" font-weight="bold" text-anchor="middle">37+</text>
<text x="152.90" y="338.40" font-size="11.50" fill="#000" stroke="#000" font-weight="bold" text-anchor="middle">36+</text>
<text x="184.60" y="380.90" font-size="11.50" fill="#000" stroke="#000" font-weight="bold" text-anchor="middle">35+</text>
<text x="264.60" y="373.60" font-size="11.50" fill="#70ad47" stroke="#70ad47" font-weight="bold" text-anchor="middle">40+</text>
<text x="293.40" y="354.80" font-size="11.50" fill="#70ad47" stroke="#70ad47" font-weight="bold" text-anchor="middle">39+</text>
<text x="324.00" y="333.40" font-size="11.50" fill="#70ad47" stroke="#70ad47" font-weight="bold" text-anchor="middle">38+</text>
<text x="357.70" y="335.40" font-size="11.50" fill="#70ad47" stroke="#70ad47" font-weight="bold" text-anchor="middle">37+</text>
<text x="391.00" y="366.90" font-size="11.50" fill="#70ad47" stroke="#70ad47" font-weight="bold" text-anchor="middle">36+</text>
<text x="413.80" y="377.20" font-size="11.50" fill="#0a7a3a" stroke="#0a7a3a" font-weight="bold" text-anchor="middle">42+</text>
<text x="445.20" y="364.60" font-size="11.50" fill="#0a7a3a" stroke="#0a7a3a" font-weight="bold" text-anchor="middle">41+</text>
<text x="478.10" y="361.30" font-size="11.50" fill="#0a7a3a" stroke="#0a7a3a" font-weight="bold" text-anchor="middle">40+</text>
<text x="514.60" y="366.30" font-size="11.50" fill="#0a7a3a" stroke="#0a7a3a" font-weight="bold" text-anchor="middle">39+</text>
<text x="551.40" y="388.10" font-size="11.50" fill="#0a7a3a" stroke="#0a7a3a" font-weight="bold" text-anchor="middle">38+</text>
</svg></body></html>
